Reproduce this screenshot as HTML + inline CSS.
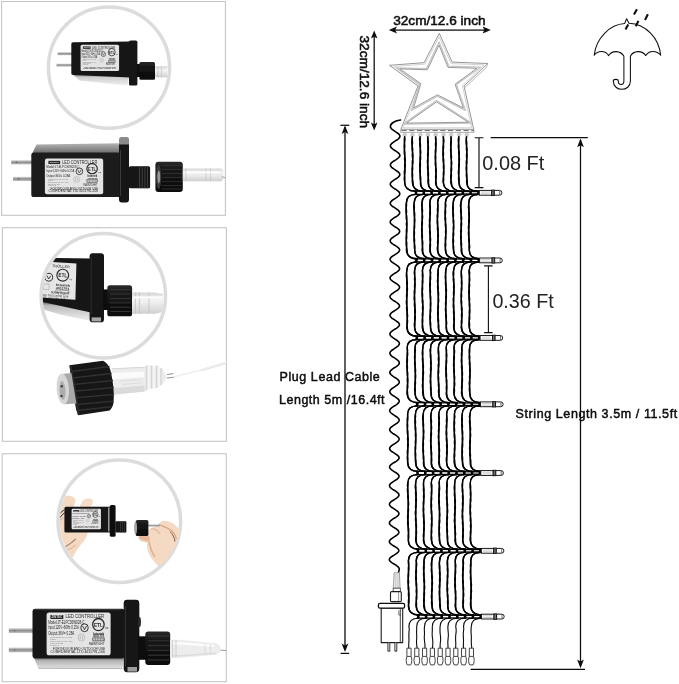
<!DOCTYPE html>
<html><head><meta charset="utf-8"><title>Star string light dimensions</title>
<style>
html,body{margin:0;padding:0;background:#fff;}
body{width:679px;height:684px;overflow:hidden;font-family:"Liberation Sans",sans-serif;}
svg{display:block;position:absolute;left:0;top:0;}
</style></head><body>
<svg width="679" height="684" viewBox="0 0 679 684">
<rect width="679" height="684" fill="#fff"/>
<defs>
  <g id="lbl" font-family="'Liberation Sans', sans-serif" fill="#262626">
    <rect x="0" y="0" width="63.5" height="40.3" rx="2.4" fill="#e4e4e4"/>
    <rect x="3.8" y="2.5" width="12.8" height="3.7" fill="#2a2a2a"/>
    <text x="5" y="5.4" font-size="2.8" fill="#ddd" font-weight="bold" textLength="10.4" lengthAdjust="spacingAndGlyphs">JINTEC</text>
    <text x="18.8" y="5.7" font-size="5.3" textLength="38.2" lengthAdjust="spacingAndGlyphs">LED CONTROLLER</text>
    <text x="1.6" y="10.6" font-size="4.8" textLength="36" lengthAdjust="spacingAndGlyphs">Model:JT-ELPC36W028-C</text>
    <text x="1.6" y="15.6" font-size="4.8" textLength="30.4" lengthAdjust="spacingAndGlyphs">Input:120V~60Hz 0.25A</text>
    <text x="1.6" y="20.8" font-size="4.8" textLength="26" lengthAdjust="spacingAndGlyphs">Output:36V= 0.28A</text>
    <g fill="#8a8a8a" font-size="2.2">
      <text x="3.3" y="23.9" textLength="22.6" lengthAdjust="spacingAndGlyphs">CONFORMS TO UL STD.</text>
      <text x="3.3" y="25.7" textLength="6" lengthAdjust="spacingAndGlyphs">1310</text>
      <text x="3.3" y="27.6" textLength="22.6" lengthAdjust="spacingAndGlyphs">CERTIFIED TO CSA STD</text>
      <text x="3.3" y="29.4" textLength="13" lengthAdjust="spacingAndGlyphs">C22.2 NO.223</text>
      <text x="3.3" y="31.2" textLength="9" lengthAdjust="spacingAndGlyphs">Class 2</text>
    </g>
    <text x="6.1" y="35.1" font-size="3.5" textLength="52" lengthAdjust="spacingAndGlyphs">FOR INDOOR AND OUTDOOR USE</text>
    <text x="3.8" y="38" font-size="3.3" textLength="54" lengthAdjust="spacingAndGlyphs">CONFIDENTIAL LTD 4011791-106</text>
    <g fill="none" stroke="#262626">
      <circle cx="37.6" cy="14.4" r="3.7" stroke-width="0.9"/>
      <path d="M35.6 12.6l2 3.6l2 -3.6" stroke-width="0.8"/>
      <circle cx="51.4" cy="11.4" r="5.7" stroke-width="1.25"/>
      <circle cx="34.6" cy="23.6" r="3.3" stroke="#9a9a9a" stroke-width="0.5"/>
      <path d="M33.4 21.8v3.6M35.6 21.8v3.6" stroke="#9a9a9a" stroke-width="0.5"/>
      <rect x="45.8" y="23.9" width="11.6" height="2.9" stroke-width="0.5"/>
      <path d="M47 24v2.8M48.6 24v2.8M50.2 24v2.8M51.8 24v2.8M53.4 24v2.8M55 24v2.8M56.4 24v2.8" stroke-width="0.4"/>
    </g>
    <text x="47" y="13.5" font-size="5.8" font-weight="bold" textLength="8.8" lengthAdjust="spacingAndGlyphs">ETL</text>
    <text x="58" y="15.8" font-size="2.4" textLength="3.4" lengthAdjust="spacingAndGlyphs">us</text>
    <text x="46.4" y="21.1" font-size="3.3" font-weight="bold" textLength="10.8" lengthAdjust="spacingAndGlyphs">Intertek</text>
    <text x="46.4" y="23.4" font-size="2.7" font-weight="bold" textLength="10.8" lengthAdjust="spacingAndGlyphs">4011791</text>
    <text x="42" y="30.6" font-size="4" textLength="15.4" lengthAdjust="spacingAndGlyphs">RAINTIGHT</text>
  </g>
  <filter id="soft0" x="0" y="0" width="679" height="684" filterUnits="userSpaceOnUse"><feGaussianBlur stdDeviation="0.3"/></filter>
  <filter id="soft" x="-5%" y="-5%" width="110%" height="110%"><feGaussianBlur stdDeviation="0.45"/></filter>
  <filter id="soft2" x="-5%" y="-5%" width="110%" height="110%"><feGaussianBlur stdDeviation="0.8"/></filter>
  <linearGradient id="topface" x1="0" y1="0" x2="0" y2="1"><stop offset="0" stop-color="#b6b6b6"/><stop offset="1" stop-color="#666"/></linearGradient>
  <linearGradient id="bevel" x1="0" y1="0" x2="0" y2="1"><stop offset="0" stop-color="#555"/><stop offset="0.35" stop-color="#b4b4b4"/><stop offset="1" stop-color="#e2e2e2"/></linearGradient>
  <linearGradient id="bevel2" x1="0" y1="0" x2="0" y2="1"><stop offset="0" stop-color="#444"/><stop offset="0.25" stop-color="#bbb"/><stop offset="1" stop-color="#efefef"/></linearGradient>
  <linearGradient id="bevel3" x1="0" y1="0" x2="0" y2="1"><stop offset="0" stop-color="#777"/><stop offset="0.3" stop-color="#cfcfcf"/><stop offset="1" stop-color="#f0f0f0"/></linearGradient>
  <linearGradient id="prong" x1="0" y1="0" x2="0" y2="1"><stop offset="0" stop-color="#d8d8d8"/><stop offset="0.5" stop-color="#8c8c8c"/><stop offset="1" stop-color="#c4c4c4"/></linearGradient>
  <linearGradient id="clear" x1="0" y1="0" x2="0" y2="1"><stop offset="0" stop-color="#d6d6d6"/><stop offset="0.35" stop-color="#f4f4f4"/><stop offset="0.7" stop-color="#e2e2e2"/><stop offset="1" stop-color="#cfcfcf"/></linearGradient>
  <linearGradient id="nutg" x1="0" y1="0" x2="0" y2="1"><stop offset="0" stop-color="#2a2a2a"/><stop offset="0.3" stop-color="#151515"/><stop offset="1" stop-color="#0c0c0c"/></linearGradient>
  <clipPath id="c1"><circle cx="109" cy="67.6" r="59"/></clipPath>
  <clipPath id="c2"><circle cx="103.3" cy="295.7" r="60.6"/></clipPath>
  <clipPath id="c3"><circle cx="120" cy="521" r="60.2"/></clipPath>
</defs>
<!-- panel borders -->
<g fill="#fff" stroke="#c6c6c6" stroke-width="1.1">
  <rect x="1.6" y="1.5" width="223.8" height="213.8"/>
  <rect x="2.4" y="227.7" width="224" height="213.6"/>
  <rect x="2.2" y="453.7" width="224.1" height="228"/>
</g>

<!-- ===== PANEL 1 ===== -->
<circle cx="109" cy="67.6" r="60.6" fill="#fff" stroke="#dcdcdc" stroke-width="3.5"/>
<g filter="url(#soft)" clip-path="url(#c1)">
  <!-- small adapter -->
  <rect x="56.5" y="63.6" width="15.5" height="3" fill="url(#prong)"/>
  <rect x="57.7" y="52.2" width="14.3" height="3" fill="url(#prong)"/>
  <path d="M72.4 74L129 76.6L127.4 85.4L79.4 80.6Z" fill="url(#bevel3)"/>
  <path d="M73 42.3L130 41.6L130 77.6L73 75Q71.3 75 71.3 73.2L71.3 44Q71.3 42.3 73 42.3Z" fill="#171717"/>
  <rect x="129" y="40.6" width="8.4" height="45" rx="1.6" fill="#141414"/>
  <use href="#lbl" transform="translate(80.6 44.8) scale(0.606 0.65)"/>
  <rect x="137" y="64" width="3" height="13" fill="#111"/>
  <rect x="139.4" y="61.9" width="15.6" height="17.8" rx="1.5" fill="url(#nutg)"/>
  <path d="M155 66.3h12.5v11h-12.5z" fill="url(#clear)"/>
  <path d="M158 66.3v11M161.4 66.3v11" stroke="#bbb" stroke-width="0.6"/>
</g>
<!-- big adapter 1 -->
<g filter="url(#soft)">
  <rect x="11.2" y="160.2" width="21" height="4.2" fill="url(#prong)"/>
  <rect x="13" y="176.8" width="19.5" height="4.2" fill="url(#prong)"/>
  <circle cx="16.4" cy="162.3" r="0.9" fill="#666"/><circle cx="18.6" cy="178.9" r="0.9" fill="#666"/>
  <path d="M36.5 144.4L119 143.2L119 154L32 154Z" fill="url(#topface)"/>
  <rect x="31.3" y="152.6" width="89" height="44.4" rx="2.6" fill="#1c1c1c"/>
  <path d="M119 139.5q0 -2.4 2.4 -2.4h5q2.6 0 2.6 2.4v7h-10z" fill="#8a8a8a"/>
  <path d="M119 144.5h10v55.6q0 2.4 -2.4 2.4h-5.2q-2.4 0 -2.4 -2.4z" fill="#121212"/>
  <path d="M120.5 150v46" stroke="#3a3a3a" stroke-width="1"/>
  <use href="#lbl" transform="translate(44.9 158.6) scale(0.918 0.885)"/>
  <!-- stub -->
  <rect x="128.9" y="166.2" width="21.2" height="22.1" rx="1.5" fill="#161616"/>
  <path d="M139.5 166v22.4M142.2 166v22.4M144.9 166v22.4M147.6 166v22.4" stroke="#444" stroke-width="0.9"/>
  <!-- nut -->
  <rect x="155.4" y="161.8" width="27.4" height="30.2" rx="3" fill="url(#nutg)"/>
  <ellipse cx="158.6" cy="177" rx="2.6" ry="12" fill="#3a3a3a"/>
  <ellipse cx="158.8" cy="177" rx="1.4" ry="6.5" fill="#9a9a9a"/>
  <path d="M162 165.5h20M162 169.5h20M162 173.5h20M162 177.5h20M162 181.5h20M162 185.5h20M162 189h20" stroke="#333" stroke-width="0.8"/>
  <!-- clear connector -->
  <path d="M182.8 168.4h38.5l2 2.4v8l-2 2.4h-38.5z" fill="url(#clear)"/>
  <path d="M186 168.4v13M206 168.4v13M210.5 168.4v13" stroke="#c4c4c4" stroke-width="0.7"/>
  <path d="M186 172.2h34" stroke="#fff" stroke-width="1.4"/>
  <path d="M222 176.5l3.4 1.5" stroke="#999" stroke-width="0.9"/>
</g>
<!-- ===== PANEL 2 ===== -->
<circle cx="103.3" cy="295.7" r="62.2" fill="#fff" stroke="#dcdcdc" stroke-width="3.5"/>
<g filter="url(#soft)" clip-path="url(#c2)">
  <path d="M38 300.5L90 311L90.5 321L60 314.5L38 308Z" fill="url(#bevel2)"/>
  <path d="M36 257.6L91 258.6L91 312.4L36 300.6Z" fill="#171717"/>
  <path d="M36 261L76.4 263.4L75.4 299.8L36 297.2Z" fill="#e6e6e6"/>
  <path d="M89.6 256.3q0 -3 3 -3h8.4q3 0 3 3v62.6q0 3.4 -3 3.4h-8.4q-3 0 -3 -3.4z" fill="#131313"/>
  <path d="M91.6 317.4h9.4v4h-9.4z" fill="#a8a8a8"/>
  <path d="M91.2 258v56" stroke="#303030" stroke-width="1"/>
  <rect x="103.6" y="289.4" width="5" height="20.6" fill="#0e0e0e"/>
  <rect x="107.3" y="285.3" width="24.8" height="31" rx="2.6" fill="url(#nutg)"/>
  <path d="M110 289.6h20.6M110 294h20.6M110 298.4h20.6M110 302.8h20.6M110 307.2h20.6M110 311.6h20.6" stroke="#3a3a3a" stroke-width="0.9"/>
  <path d="M132 292.4h23l8 1.6v18l-8 1.8h-23z" fill="url(#clear)"/>
  <path d="M135.4 292.4v21.6M139.4 292.4v21.6M149 292.6v21" stroke="#c2c2c2" stroke-width="0.8"/>
  <path d="M133.4 297.4h29" stroke="#fff" stroke-width="2"/>
  <g transform="rotate(4 60 280)">
    <g fill="#222" font-family="'Liberation Sans', sans-serif">
      <text x="51" y="267.6" font-size="3.6" textLength="18" lengthAdjust="spacingAndGlyphs">TROLLER</text>
      <text x="56.4" y="286.2" font-size="3.5" font-weight="bold" textLength="14" lengthAdjust="spacingAndGlyphs">Intertek</text>
      <text x="56.4" y="289.2" font-size="3" font-weight="bold" textLength="13.4" lengthAdjust="spacingAndGlyphs">4011791</text>
      <text x="52" y="294.2" font-size="3.8" textLength="18.6" lengthAdjust="spacingAndGlyphs">RAINTIGHT</text>
      <text x="42" y="297.2" font-size="2.9" textLength="28" lengthAdjust="spacingAndGlyphs">AND OUTDOOR USE</text>
      <text x="42" y="299.8" font-size="2.7" textLength="25" lengthAdjust="spacingAndGlyphs">LTD 4011791-106</text>
    </g>
    <g fill="none" stroke="#222" stroke-width="1.1">
      <circle cx="62.4" cy="275" r="5.9"/><circle cx="48.6" cy="278" r="3.9" stroke-width="0.9"/>
      <path d="M46.6 276.4l2 3.4l2 -3.4" stroke-width="0.8"/>
      <path d="M44 285h5.6v5.4h-5.6z" stroke-width="0.5" stroke="#999"/>
      <path d="M56.6 290h13v2.6h-13z" stroke-width="0.5" stroke="#555"/>
    </g>
    <text x="58.1" y="277" font-size="5.5" font-weight="bold" font-family="'Liberation Sans', sans-serif" fill="#222" textLength="8.8" lengthAdjust="spacingAndGlyphs">ETL</text>
    <text x="69.4" y="279.4" font-size="2.4" font-family="'Liberation Sans', sans-serif" fill="#222">us</text>
  </g>
</g>
<!-- big connector -->
<g filter="url(#soft)">
  <path d="M201.5 370.2L226.4 362.6" stroke="#e2e2e2" stroke-width="2.4"/>
  <path d="M201.5 369.8L226.4 362.2" stroke="#f8f8f8" stroke-width="0.9"/>
  <path d="M172 377.2L202 370" stroke="#efefef" stroke-width="1.4"/>
  <path d="M167 374.6l6.5 -1M167 378l6.5 -0.6" stroke="#909090" stroke-width="1"/>
  <path d="M111.5 368.6L145 367L147 365.2L152 365.8L157.5 365.6L162.6 369L167.2 377L163 384L157 388.2L150 388.6L145 391.6L111.5 395Z" fill="#ececec"/>
  <path d="M112 373L144 371.4L144 377L112 379.4Z" fill="#fbfbfb"/>
  <path d="M112 388.6L144.5 385.4L144.5 391.4L112 394.8Z" fill="#dadada"/>
  <path d="M112 368.8L145 367.2" stroke="#d6d6d6" stroke-width="1"/>
  <path d="M146.5 365.4v25M151.5 365.8v22.6M156.5 365.8v22M161 368v17" stroke="#d4d4d4" stroke-width="1.2"/>
  <path d="M149 365.4v24M154 365.8v22M159 366.6v19.6" stroke="#fcfcfc" stroke-width="1.1"/>
  <path d="M120 381l22 -1.4M122 384.4l20 -1.6" stroke="#d4d4d4" stroke-width="0.6"/>
  <path d="M69.4 365.2L103 360.8Q108 363 110.4 370Q114.6 387 113.6 402.6Q112.6 408 109.6 410.6L78.3 415.2Q75.6 410 75 403Q72 383 69.4 365.2Z" fill="#151515"/>
  <path d="M71.5 371.5L109.5 366.6M72.4 378L111.6 373.4M73.2 384.6L113 380.4M74 391.2L113.8 387.4M74.8 397.8L113.8 394.4M75.6 404.4L113.2 401.2M77 410.4L111 406.8" stroke="#303030" stroke-width="1.5" fill="none"/>
  <path d="M70.6 366L78.8 414.6" stroke="#2c2c2c" stroke-width="2.2"/>
  <path d="M62 373.9L71.4 373L76.4 403.6L64.4 404.2Z" fill="#a9a9a9"/>
  <ellipse cx="62.8" cy="389" rx="6.2" ry="15.2" fill="#d6d6d6" transform="rotate(-4 62.8 389)"/>
  <ellipse cx="62.4" cy="390.4" rx="3" ry="9.4" fill="#adadad" transform="rotate(-4 62.8 389)"/>
  <circle cx="61.8" cy="386.2" r="1.2" fill="#3c3c3c"/><circle cx="61.4" cy="396" r="1.2" fill="#3c3c3c"/>
</g>

<!-- ===== PANEL 3 ===== -->
<circle cx="119.3" cy="521.2" r="61.3" fill="#fff" stroke="#dcdcdc" stroke-width="3.5"/>
<g filter="url(#soft)" clip-path="url(#c3)">
  <!-- left hand (behind) -->
  <path d="M57 503C59 499 62.5 496.4 66 496C70 495.4 74 496.4 75.2 499.6C75.6 502.5 74.4 505 73.4 507.5L57 512Z" fill="#f3d8c2"/>
  <path d="M79.6 507C80.6 503.4 82.6 500.4 85.4 499C88.4 497.6 91.6 498.2 92.8 500.8C93.2 503 91.6 505.4 90 507.5Z" fill="#f5dcc8"/>
  <path d="M56 508L66 506L66 534L56 536Z" fill="#f3d8c2"/>
  <path d="M56 528L87.4 530.4C88.4 535 85.6 539.4 82.6 542.6C79 547 74.8 553 71 560.4L64 556L56 548Z" fill="#f4d9c3"/>
  <path d="M65.4 546.8C69 544.6 72.6 542 75.8 538.8" stroke="#a87a5c" stroke-width="1.1" fill="none"/>
  <path d="M63 551.5C67 550.6 72 548 76 545" stroke="#dcae8e" stroke-width="1" fill="none"/>
  <path d="M58.5 514.5l5.5 -4.6M58.5 519l6 -6.4" stroke="#2c2c2c" stroke-width="1"/>
  <path d="M58 521l6 -3" stroke="#caa" stroke-width="0.9"/>
  <!-- right hand -->
  <path d="M137.8 537.1L141 534.6L148.3 536L148.3 530.5C150 528.2 153 527 156 526.4L159.5 523.3C160.6 521.6 162 520.8 163.4 520.7C166.6 520.6 170 521.6 172.6 523.3C175.6 525.2 178 528 180.4 531L181 547L172 560L163.4 567L159.5 566.7C156 564 153.6 561.2 151.6 558.2C149.6 555.6 148.4 553 147.6 550.3C147 548 147 545.6 147 543L140 541Z" fill="#f4d9c3"/>
  <path d="M138.4 537.4C141 540 145.6 541.6 149.4 541.2C150.4 538.6 150 536.4 148.3 536L141 534.8Z" fill="#e6b79a"/>
  <path d="M149 541.5C150 547 151.5 552 155 557" stroke="#e2b294" stroke-width="1.6" fill="none"/>
  <path d="M159 524.5C163 526.4 168 527.4 172 531C174 533 175.6 536 176.4 539" stroke="#d9a787" stroke-width="1.3" fill="none"/>
  <path d="M170 531.5C172.6 534 174.4 537.6 175 541.6" stroke="#8a5e44" stroke-width="1" fill="none"/>
  <path d="M150.6 529C154 528.6 158 530.6 160 534" stroke="#e4b89c" stroke-width="1.2" fill="none"/>
  <!-- adapter -->
  <rect x="64.4" y="506.8" width="48" height="25.8" rx="1.6" fill="#161616"/>
  <path d="M109.8 506.6q0 -1.6 1.6 -1.6h2.6q1.6 0 1.6 1.6v28.6q0 1.6 -1.6 1.6h-2.6q-1.6 0 -1.6 -1.6z" fill="#111"/>
  <use href="#lbl" transform="translate(71.6 508.8) scale(0.462 0.508)"/>
  <path d="M108.8 507.5v24" stroke="#bdbdbd" stroke-width="1.2"/>
  <rect x="115.4" y="521.2" width="11" height="11.4" rx="0.8" fill="#141414"/>
  <path d="M120.5 521.2v11.4M122.6 521.2v11.4M124.7 521.2v11.4" stroke="#3c3c3c" stroke-width="0.7"/>
  <!-- nut -->
  <path d="M148.3 525.6h11.4" stroke="#9c9c9c" stroke-width="1.8"/>
  <rect x="135.8" y="520" width="12.6" height="16" rx="1.6" fill="url(#nutg)"/>
  <ellipse cx="135.6" cy="528" rx="1.5" ry="6.4" fill="#a4a4a4"/>
</g>
<!-- big adapter 3 -->
<g filter="url(#soft)">
  <rect x="8.8" y="628.2" width="24.4" height="4.8" fill="url(#prong)"/>
  <rect x="8.8" y="647.5" width="24.4" height="4.8" fill="url(#prong)"/>
  <circle cx="14.6" cy="630.6" r="0.9" fill="#777"/><circle cx="14.6" cy="649.9" r="0.9" fill="#777"/>
  <path d="M33.4 656.5L124 656.5L122.4 668.6L38.4 668.3Z" fill="url(#bevel)"/>
  <path d="M38.4 668.3L122.4 668.6" stroke="#9a9a9a" stroke-width="0.7"/>
  <rect x="32.5" y="608.7" width="92" height="49.8" rx="3" fill="#191919"/>
  <path d="M35 609.6h86" stroke="#3a3a3a" stroke-width="1"/>
  <path d="M123.7 603.2q0 -3.4 3.4 -3.4h8.8q3.4 0 3.4 3.4v65.4q0 3.6 -3.4 3.6h-8.8q-3.4 0 -3.4 -3.6z" fill="#121212"/>
  <path d="M127.5 667h9.5v4.6h-9.5z" fill="#9c9c9c"/>
  <path d="M125.6 606v60" stroke="#343434" stroke-width="1.1"/>
  <ellipse cx="139.4" cy="622" rx="1.6" ry="5" fill="#2c2c2c"/>
  <use href="#lbl" transform="translate(46.6 612.4) scale(1.008 1.066)"/>
  <rect x="138.6" y="636.3" width="8" height="23.5" fill="#0e0e0e"/>
  <rect x="145.3" y="631.5" width="24.9" height="33.6" rx="3" fill="url(#nutg)"/>
  <path d="M148 636h21.5M148 640.8h21.5M148 645.6h21.5M148 650.4h21.5M148 655.2h21.5M148 660h21.5" stroke="#353535" stroke-width="1"/>
  <path d="M170.1 639.8h10l36 3.4l4.4 3v5.6l-4.4 3l-36 3.2h-10z" fill="#ededed"/>
  <path d="M172 643.4h8l34 2.4" stroke="#fdfdfd" stroke-width="2.2" fill="none"/>
  <path d="M172 655.8h8l36 -2.6" stroke="#dcdcdc" stroke-width="1.4" fill="none"/>
  <path d="M172.6 640v17.8M176 640v17.8" stroke="#c8c8c8" stroke-width="0.8"/>
  <path d="M205 644v11M210.5 644.4v10" stroke="#d8d8d8" stroke-width="0.8"/>
  <path d="M220.5 650l5.6 0.6" stroke="#9a9a9a" stroke-width="1"/>
</g>
<g filter="url(#soft0)"><!-- dimension lines -->
<g stroke="#0a0a0a" stroke-width="1.25" fill="none">
  <path d="M392 30H488"/>
  <path d="M374.2 34V127"/>
  <path d="M345 127V650"/>
  <path d="M340.4 125.3H349.3"/>
  <path d="M340.6 653.4H349.2"/>
  <path d="M580.5 140V666"/>
  <path d="M490.7 137.7H587.8"/>
  <path d="M470.6 669.4H585"/>
</g>
<g stroke="#0a0a0a" stroke-width="1.1" fill="none">
  <path d="M479 137.7V187.6M474.7 137.7H483.4M474.7 187.6H483.4"/>
  <path d="M488.4 265.9V332.6M484.1 265.9H492.6M484.1 332.6H492.6"/>
</g>
<!-- arrowheads (stealth) -->
<g fill="#111">
  <path d="M388.8 30l8.2 -3.4l-1.8 3.4l1.8 3.4z"/>
  <path d="M490.8 30l-8.2 -3.4l1.8 3.4l-1.8 3.4z"/>
  <path d="M374.2 30.6l-3.3 8l3.3 -1.8l3.3 1.8z"/>
  <path d="M374.2 130.4l-3.3 -8l3.3 1.8l3.3 -1.8z"/>
  <path d="M345 125.4l-3.4 8.6l3.4 -2l3.4 2z"/>
  <path d="M345 652l-3.4 -8.6l3.4 2l3.4 -2z"/>
  <path d="M580.5 138.6l-3.4 8.6l3.4 -2l3.4 2z"/>
  <path d="M580.5 668.2l-3.4 -8.6l3.4 2l3.4 -2z"/>
</g>
<!-- texts -->
<g font-family="'Liberation Sans', sans-serif" fill="#111">
  <text x="393.2" y="25.1" font-size="13.3" stroke="#111" stroke-width="0.55" textLength="92.4" lengthAdjust="spacingAndGlyphs">32cm/12.6 inch</text>
  <text transform="translate(359.5 35.5) rotate(90)" font-size="13.3" stroke="#111" stroke-width="0.55" textLength="92.6" lengthAdjust="spacingAndGlyphs">32cm/12.6 inch</text>
  <text x="482.3" y="169.5" font-size="20" fill="#222" textLength="62" lengthAdjust="spacingAndGlyphs">0.08 Ft</text>
  <text x="492.4" y="307.9" font-size="20" fill="#222" textLength="61.4" lengthAdjust="spacingAndGlyphs">0.36 Ft</text>
  <text x="279.6" y="381" font-size="12.5" stroke="#000" stroke-width="0.42" textLength="100.2" lengthAdjust="spacing">Plug Lead Cable</text>
  <text x="279" y="404" font-size="12.5" stroke="#000" stroke-width="0.42" textLength="105.6" lengthAdjust="spacing">Length 5m /16.4ft</text>
  <text x="515.6" y="418.1" font-size="12.5" stroke="#000" stroke-width="0.42" textLength="161.6" lengthAdjust="spacing">String Length 3.5m / 11.5ft</text>
</g>
<!-- star -->
<g fill="none" stroke-linejoin="round">
<path d="M439.3 33.4L452.1 62.1L487.8 63.5L464.0 86.0L473.7 129.3L400.9 129.3L418.0 86.0L389.5 65.3L424.0 62.7Z" fill="#fff" stroke="#8a8a8a" stroke-width="0.9"/>
<path d="M439.2 36.8L451.1 63.6L484.2 64.9L462.3 85.5L471.8 127.8L403.1 127.8L419.8 85.5L393.7 66.5L424.9 64.1Z" stroke="#cdcdcd" stroke-width="0.9"/>
<path d="M439.1 42.0L448.8 66.2L480.3 67.2L456.5 84.6L465.5 110.4L437.4 96.2L411.6 110.5L419.4 84.1L396.4 67.8L426.6 68.6Z" stroke="#c4c4c4" stroke-width="1.3"/>
<path d="M439.0 45.0L448.0 67.4L476.9 68.3L455.1 84.2L463.4 108.0L437.4 94.8L413.6 108.0L420.8 83.6L399.8 68.9L427.4 69.8Z" stroke="#8e8e8e" stroke-width="0.9"/>
<path d="M436.6 100.5L471.9 123.2L403.1 124.2Z" stroke="#c4c4c4" stroke-width="1.3"/>
<path d="M436.6 101.9L468.4 122.2L406.5 123.1Z" stroke="#8e8e8e" stroke-width="0.9"/>
<path d="M487.8 63.5L486.3 67.6L464.8 87.6" stroke="#a8a8a8" stroke-width="0.8"/>
<path d="M400.9 129.3L400.6 132.4H474.2L473.7 129.3" stroke="#9a9a9a" stroke-width="0.8"/>
</g>
<!-- connectors under star -->
<path d="M401.5 130.6H474" stroke="#6a6a6a" stroke-width="1" stroke-dasharray="5.2 2.55" fill="none"/>
<g fill="#cfcfcf" stroke="#b0b0b0" stroke-width="0.5">
  <circle cx="404.8" cy="134.9" r="1.8"/><circle cx="412.5" cy="134.9" r="1.8"/><circle cx="420.3" cy="134.9" r="1.8"/>
  <circle cx="428" cy="134.9" r="1.8"/><circle cx="435.7" cy="134.9" r="1.8"/><circle cx="443.5" cy="134.9" r="1.8"/>
  <circle cx="451.2" cy="134.9" r="1.8"/><circle cx="459" cy="134.9" r="1.8"/><circle cx="466.7" cy="134.9" r="1.8"/>
</g>
<!-- umbrella -->
<g fill="none" stroke="#111" stroke-width="1.05" stroke-linejoin="round" stroke-linecap="round">
  <path d="M594.2 55.3C596 38 610 24.5 624.6 23.6L626.6 18.7L629 23.2C646 24 659 38 660.7 55.3C657 50.5 649 50 645.8 55.6C642 50 633.5 50.4 630.4 56.2V81.1C630.4 92 613.3 92 613.3 81.1C613.3 78.8 618.3 78.8 618.3 81.1C618.3 85.6 623.9 85.6 623.9 81.1V56.2C620.5 50.4 612.2 50 608.5 55.6C605.5 50 597.5 50.5 594.2 55.3Z"/>
</g>
<g stroke="#111" stroke-width="2.1" fill="none">
  <path d="M636.9 9.2L634 14.5M647.9 14.3L645 20M638.4 20.9L635.8 26.3M628.2 24.6L625.5 29.5"/>
</g>
<g fill="none" stroke="#050505" stroke-width="1.38" stroke-linecap="round" stroke-linejoin="round"><path d="M404.6 137.0L404.3 139.2L404.3 141.4L404.6 143.6L404.8 145.8L404.7 148.0L404.3 150.2L404.2 152.4L404.5 154.6L404.9 156.8L405.3 159.0L405.2 161.2L404.8 163.4L404.6 165.6L404.7 167.8L405.0 170.0L405.1 172.2L404.8 174.4L404.4 176.6L404.2 178.8L404.5 181.0L404.7 182.3C404.8 188.4 408.6 191.1 415.3 191.2"/><path d="M404.6 137.0L405.0 139.2L404.8 141.4L404.3 143.6L404.1 145.8L404.2 148.0L404.6 150.2L404.9 152.4L404.9 154.6L404.7 156.8L404.5 159.0L404.8 161.2L405.1 163.4L405.3 165.6L405.1 167.8L404.6 170.0L404.3 172.2L404.4 174.4L404.8 176.6L404.9 178.8L404.8 181.0L404.6 182.3C404.8 188.4 408.6 191.1 415.3 191.2"/><path d="M412.3 137.0L412.1 139.2L412.4 141.4L412.5 143.6L412.2 145.8L412.0 148.0L412.1 150.2L412.6 152.4L413.0 154.6L413.0 156.8L412.7 159.0L412.3 161.2L412.3 163.4L412.5 165.6L412.7 167.8L412.6 170.0L412.2 172.2L412.0 174.4L412.1 176.6L412.5 178.8L412.9 181.0L413.0 182.3C412.6 188.4 416.4 191.1 423.1 191.2"/><path d="M412.3 137.0L412.2 139.2L411.8 141.4L411.8 143.6L412.2 145.8L412.6 148.0L412.7 150.2L412.5 152.4L412.3 154.6L412.4 156.8L412.7 159.0L413.0 161.2L412.9 163.4L412.4 165.6L412.1 167.8L412.0 170.0L412.4 172.2L412.6 174.4L412.6 176.6L412.4 178.8L412.2 181.0L412.3 182.3C412.6 188.4 416.4 191.1 423.1 191.2"/><path d="M420.1 137.0L420.2 139.2L420.1 141.4L419.8 143.6L419.8 145.8L420.2 148.0L420.6 150.2L420.8 152.4L420.5 154.6L420.1 156.8L419.9 159.0L420.1 161.2L420.4 163.4L420.4 165.6L420.1 167.8L419.7 170.0L419.8 172.2L420.2 174.4L420.6 176.6L420.8 178.8L420.6 181.0L420.4 182.3C420.3 188.4 424.1 191.1 430.8 191.2"/><path d="M420.1 137.0L419.5 139.2L419.8 141.4L420.3 143.6L420.5 145.8L420.4 148.0L420.1 150.2L420.1 152.4L420.3 154.6L420.6 156.8L420.6 159.0L420.2 161.2L419.8 163.4L419.7 165.6L419.9 167.8L420.3 170.0L420.4 172.2L420.2 174.4L420.0 176.6L420.1 178.8L420.5 181.0L420.8 182.3C420.3 188.4 424.1 191.1 430.8 191.2"/><path d="M427.8 137.0L427.7 139.2L427.6 141.4L427.8 143.6L428.3 145.8L428.5 148.0L428.3 150.2L427.9 152.4L427.6 154.6L427.7 156.8L428.0 159.0L428.1 161.2L427.9 163.4L427.6 165.6L427.5 167.8L427.8 170.0L428.3 172.2L428.5 174.4L428.4 176.6L428.1 178.8L427.9 181.0L428.0 182.3C428.1 188.4 431.9 191.1 438.6 191.2"/><path d="M427.8 137.0L427.9 139.2L428.3 141.4L428.2 143.6L427.9 145.8L427.8 148.0L427.9 150.2L428.2 152.4L428.3 154.6L428.0 156.8L427.6 159.0L427.4 161.2L427.5 163.4L428.0 165.6L428.2 167.8L428.1 170.0L427.9 172.2L427.8 174.4L428.1 176.6L428.5 178.8L428.6 181.0L428.5 182.3C428.1 188.4 431.9 191.1 438.6 191.2"/><path d="M435.6 137.0L435.5 139.2L435.9 141.4L436.2 143.6L436.1 145.8L435.7 148.0L435.3 150.2L435.3 152.4L435.5 154.6L435.8 156.8L435.7 159.0L435.4 161.2L435.2 163.4L435.4 165.6L435.9 167.8L436.3 170.0L436.2 172.2L435.9 174.4L435.6 176.6L435.7 178.8L436.0 181.0L436.1 182.3C435.8 188.4 439.6 191.1 446.3 191.2"/><path d="M435.6 137.0L436.1 139.2L435.8 141.4L435.5 143.6L435.5 145.8L435.8 148.0L436.0 150.2L435.8 152.4L435.4 154.6L435.1 156.8L435.2 159.0L435.6 161.2L435.9 163.4L435.9 165.6L435.7 167.8L435.6 170.0L435.8 172.2L436.1 174.4L436.3 176.6L436.1 178.8L435.7 181.0L435.5 182.3C435.8 188.4 439.6 191.1 446.3 191.2"/><path d="M443.3 137.0L443.8 139.2L443.9 141.4L443.5 143.6L443.1 145.8L442.9 148.0L443.1 150.2L443.4 152.4L443.5 154.6L443.3 156.8L443.0 159.0L443.1 161.2L443.5 163.4L444.0 165.6L444.0 167.8L443.7 170.0L443.4 172.2L443.3 174.4L443.5 176.6L443.7 178.8L443.6 181.0L443.4 182.3C443.5 188.4 447.3 191.1 454.0 191.2"/><path d="M443.3 137.0L443.3 139.2L443.2 141.4L443.4 143.6L443.6 145.8L443.6 148.0L443.2 150.2L442.9 152.4L442.8 154.6L443.2 156.8L443.6 159.0L443.8 161.2L443.6 163.4L443.4 165.6L443.4 167.8L443.7 170.0L444.0 172.2L443.9 174.4L443.5 176.6L443.1 178.8L443.0 181.0L443.2 182.3C443.5 188.4 447.3 191.1 454.0 191.2"/><path d="M451.0 137.0L451.3 139.2L450.8 141.4L450.6 143.6L450.7 145.8L451.0 148.0L451.2 150.2L451.1 152.4L450.9 154.6L450.8 156.8L451.2 159.0L451.6 161.2L451.8 163.4L451.5 165.6L451.1 167.8L450.9 170.0L451.1 172.2L451.4 174.4L451.4 176.6L451.1 178.8L450.8 181.0L450.7 182.3C451.3 188.4 455.1 191.1 461.8 191.2"/><path d="M451.0 137.0L450.9 139.2L451.2 141.4L451.3 143.6L451.0 145.8L450.7 148.0L450.5 150.2L450.8 152.4L451.3 154.6L451.5 156.8L451.4 159.0L451.2 161.2L451.1 163.4L451.3 165.6L451.6 167.8L451.6 170.0L451.3 172.2L450.9 174.4L450.7 176.6L450.9 178.8L451.3 181.0L451.4 182.3C451.3 188.4 455.1 191.1 461.8 191.2"/><path d="M458.8 137.0L458.3 139.2L458.3 141.4L458.7 143.6L459.0 145.8L458.9 148.0L458.7 150.2L458.6 152.4L458.8 154.6L459.2 156.8L459.5 159.0L459.4 161.2L458.9 163.4L458.6 165.6L458.7 167.8L459.0 170.0L459.1 172.2L458.9 174.4L458.6 176.6L458.5 178.8L458.8 181.0L459.1 182.3C459.0 188.4 462.8 191.1 469.5 191.2"/><path d="M458.8 137.0L459.0 139.2L458.8 141.4L458.5 143.6L458.3 145.8L458.4 148.0L458.9 150.2L459.3 152.4L459.3 154.6L459.0 156.8L458.8 159.0L458.9 161.2L459.2 163.4L459.3 165.6L459.1 167.8L458.6 170.0L458.4 172.2L458.5 174.4L458.9 176.6L459.2 178.8L459.2 181.0L459.0 182.3C459.0 188.4 462.8 191.1 469.5 191.2"/><path d="M466.5 137.0L466.3 139.2L466.6 141.4L466.8 143.6L466.6 145.8L466.4 148.0L466.5 150.2L466.8 152.4L467.2 154.6L467.1 156.8L466.7 159.0L466.3 161.2L466.3 163.4L466.5 165.6L466.8 167.8L466.7 170.0L466.5 172.2L466.3 174.4L466.4 176.6L466.9 178.8L467.3 181.0L467.3 182.3C466.8 188.4 470.6 191.1 477.3 191.2"/><path d="M466.5 137.0L466.3 139.2L466.0 141.4L466.1 143.6L466.5 145.8L467.0 148.0L467.1 150.2L466.8 152.4L466.5 154.6L466.5 156.8L466.8 159.0L467.0 161.2L466.9 163.4L466.5 165.6L466.1 167.8L466.2 170.0L466.6 172.2L466.9 174.4L467.0 176.6L466.8 178.8L466.6 181.0L466.6 182.3C466.8 188.4 470.6 191.1 477.3 191.2"/><path d="M415.9 194.4C410.0 194.5 406.4 197.0 406.4 202.8L405.9 205.0L406.1 207.2L406.4 209.4L406.6 211.6L406.4 213.8L406.2 216.0L406.2 218.2L406.6 220.4L407.0 222.6L407.1 224.8L406.8 227.0L406.4 229.2L406.3 231.4L406.4 233.6L406.7 235.8L406.7 238.0L406.4 240.2L406.1 242.4L406.1 244.6L406.5 246.8L407.0 249.0L407.1 249.9C406.7 256.0 410.5 258.7 417.2 258.8"/><path d="M415.9 194.4C410.0 194.5 406.4 197.0 406.4 202.8L406.6 205.0L406.3 207.2L406.0 209.4L405.9 211.6L406.2 213.8L406.7 216.0L406.9 218.2L406.8 220.4L406.5 222.6L406.4 224.8L406.7 227.0L407.0 229.2L407.0 231.4L406.6 233.6L406.2 235.8L406.0 238.0L406.3 240.2L406.7 242.4L406.8 244.6L406.6 246.8L406.4 249.0L406.4 249.9C406.7 256.0 410.5 258.7 417.2 258.8"/><path d="M423.7 194.4C417.8 194.5 414.2 197.0 414.2 202.8L414.1 205.0L414.4 207.2L414.3 209.4L414.1 211.6L414.0 213.8L414.2 216.0L414.7 218.2L414.9 220.4L414.7 222.6L414.3 224.8L414.0 227.0L414.1 229.2L414.4 231.4L414.5 233.6L414.3 235.8L414.0 238.0L413.9 240.2L414.2 242.4L414.7 244.6L415.0 246.8L414.8 249.0L414.7 249.9C414.5 256.0 418.3 258.7 425.0 258.8"/><path d="M423.7 194.4C417.8 194.5 414.2 197.0 414.2 202.8L413.8 205.0L413.7 207.2L413.9 209.4L414.4 211.6L414.7 213.8L414.7 216.0L414.4 218.2L414.2 220.4L414.3 222.6L414.6 224.8L414.7 227.0L414.4 229.2L414.0 231.4L413.8 233.6L414.0 235.8L414.4 238.0L414.6 240.2L414.5 242.4L414.3 244.6L414.3 246.8L414.6 249.0L414.7 249.9C414.5 256.0 418.3 258.7 425.0 258.8"/><path d="M431.5 194.4C425.6 194.5 422.0 197.0 422.0 202.8L422.2 205.0L422.0 207.2L421.8 209.4L422.0 211.6L422.3 213.8L422.6 216.0L422.6 218.2L422.1 220.4L421.8 222.6L421.7 224.8L422.0 227.0L422.2 229.2L422.2 231.4L421.9 233.6L421.7 235.8L421.9 238.0L422.4 240.2L422.8 242.4L422.7 244.6L422.4 246.8L422.1 249.0L422.1 249.9C422.3 256.0 426.1 258.7 432.8 258.8"/><path d="M431.5 194.4C425.6 194.5 422.0 197.0 422.0 202.8L421.6 205.0L422.1 207.2L422.5 209.4L422.5 211.6L422.3 213.8L422.0 216.0L422.0 218.2L422.3 220.4L422.4 222.6L422.3 224.8L421.9 227.0L421.6 229.2L421.7 231.4L422.1 233.6L422.4 235.8L422.4 238.0L422.2 240.2L422.1 242.4L422.2 244.6L422.6 246.8L422.8 249.0L422.8 249.9C422.3 256.0 426.1 258.7 432.8 258.8"/><path d="M439.3 194.4C433.4 194.5 429.8 197.0 429.8 202.8L429.7 205.0L429.7 207.2L430.0 209.4L430.3 211.6L430.4 213.8L430.0 216.0L429.6 218.2L429.4 220.4L429.6 222.6L430.0 224.8L430.0 227.0L429.8 229.2L429.6 231.4L429.7 233.6L430.1 235.8L430.5 238.0L430.6 240.2L430.3 242.4L429.9 244.6L429.8 246.8L430.0 249.0L430.2 249.9C430.1 256.0 433.9 258.7 440.6 258.8"/><path d="M439.3 194.4C433.4 194.5 429.8 197.0 429.8 202.8L430.2 205.0L430.4 207.2L430.2 209.4L429.8 211.6L429.7 213.8L429.9 216.0L430.1 218.2L430.1 220.4L429.7 222.6L429.4 224.8L429.4 227.0L429.7 229.2L430.2 231.4L430.3 233.6L430.1 235.8L429.9 238.0L429.9 240.2L430.3 242.4L430.5 244.6L430.4 246.8L430.0 249.0L429.8 249.9C430.1 256.0 433.9 258.7 440.6 258.8"/><path d="M447.1 194.4C441.2 194.5 437.6 197.0 437.6 202.8L437.7 205.0L438.0 207.2L438.1 209.4L437.9 211.6L437.4 213.8L437.1 216.0L437.3 218.2L437.6 220.4L437.8 222.6L437.7 224.8L437.5 227.0L437.4 229.2L437.8 231.4L438.2 233.6L438.4 235.8L438.1 238.0L437.7 240.2L437.5 242.4L437.7 244.6L437.9 246.8L438.0 249.0L437.9 249.9C437.9 256.0 441.7 258.7 448.4 258.8"/><path d="M447.1 194.4C441.2 194.5 437.6 197.0 437.6 202.8L438.1 205.0L437.7 207.2L437.4 209.4L437.5 211.6L437.8 213.8L437.9 216.0L437.6 218.2L437.2 220.4L437.1 222.6L437.4 224.8L437.9 227.0L438.2 229.2L438.1 231.4L437.8 233.6L437.7 235.8L437.9 238.0L438.2 240.2L438.2 242.4L437.9 244.6L437.4 246.8L437.3 249.0L437.3 249.9C437.9 256.0 441.7 258.7 448.4 258.8"/><path d="M454.9 194.4C449.0 194.5 445.4 197.0 445.4 202.8L445.9 205.0L445.7 207.2L445.3 209.4L444.9 211.6L445.0 213.8L445.3 216.0L445.6 218.2L445.6 220.4L445.4 222.6L445.3 224.8L445.5 227.0L445.9 229.2L446.2 231.4L446.0 233.6L445.6 235.8L445.3 238.0L445.3 240.2L445.6 242.4L445.8 244.6L445.6 246.8L445.3 249.0L445.2 249.9C445.7 256.0 449.5 258.7 456.2 258.8"/><path d="M454.9 194.4C449.0 194.5 445.4 197.0 445.4 202.8L445.2 205.0L445.2 207.2L445.4 209.4L445.6 211.6L445.5 213.8L445.1 216.0L444.9 218.2L445.1 220.4L445.6 222.6L446.0 224.8L446.0 227.0L445.7 229.2L445.5 231.4L445.6 233.6L445.8 235.8L446.0 238.0L445.7 240.2L445.3 242.4L445.0 244.6L445.2 246.8L445.6 249.0L445.8 249.9C445.7 256.0 449.5 258.7 456.2 258.8"/><path d="M462.7 194.4C456.8 194.5 453.2 197.0 453.2 202.8L453.1 205.0L452.7 207.2L452.7 209.4L453.0 211.6L453.4 213.8L453.5 216.0L453.3 218.2L453.1 220.4L453.2 222.6L453.6 224.8L453.9 227.0L453.8 229.2L453.4 231.4L453.0 233.6L453.0 235.8L453.2 238.0L453.5 240.2L453.5 242.4L453.2 244.6L453.0 246.8L453.2 249.0L453.4 249.9C453.5 256.0 457.3 258.7 464.0 258.8"/><path d="M462.7 194.4C456.8 194.5 453.2 197.0 453.2 202.8L453.0 205.0L453.3 207.2L453.3 209.4L453.0 211.6L452.8 213.8L452.9 216.0L453.3 218.2L453.7 220.4L453.8 222.6L453.6 224.8L453.3 227.0L453.2 229.2L453.5 231.4L453.7 233.6L453.6 235.8L453.2 238.0L452.8 240.2L452.9 242.4L453.3 244.6L453.7 246.8L453.7 249.0L453.7 249.9C453.5 256.0 457.3 258.7 464.0 258.8"/><path d="M470.5 194.4C464.6 194.5 461.0 197.0 461.0 202.8L460.4 205.0L460.6 207.2L461.1 209.4L461.3 211.6L461.2 213.8L461.0 216.0L460.9 218.2L461.2 220.4L461.6 222.6L461.6 224.8L461.3 227.0L460.9 229.2L460.7 231.4L460.9 233.6L461.2 235.8L461.3 238.0L461.1 240.2L460.9 242.4L460.9 244.6L461.3 246.8L461.8 249.0L461.8 249.9C461.3 256.0 465.1 258.7 471.8 258.8"/><path d="M470.5 194.4C464.6 194.5 461.0 197.0 461.0 202.8L461.1 205.0L460.9 207.2L460.7 209.4L460.6 211.6L461.0 213.8L461.4 216.0L461.7 218.2L461.5 220.4L461.1 222.6L460.9 224.8L461.1 227.0L461.4 229.2L461.4 231.4L461.0 233.6L460.7 235.8L460.6 238.0L461.0 240.2L461.4 242.4L461.6 244.6L461.4 246.8L461.2 249.0L461.1 249.9C461.3 256.0 465.1 258.7 471.8 258.8"/><path d="M478.3 194.4C472.4 194.5 468.8 197.0 468.8 202.8L468.8 205.0L469.1 207.2L469.1 209.4L468.9 211.6L468.7 213.8L468.9 216.0L469.2 218.2L469.4 220.4L469.2 222.6L468.7 224.8L468.4 227.0L468.5 229.2L468.9 231.4L469.1 233.6L469.0 235.8L468.8 238.0L468.7 240.2L469.0 242.4L469.5 244.6L469.7 246.8L469.4 249.0L469.3 249.9C469.1 256.0 472.9 258.7 479.6 258.8"/><path d="M478.3 194.4C472.4 194.5 468.8 197.0 468.8 202.8L468.6 205.0L468.4 207.2L468.7 209.4L469.1 211.6L469.4 213.8L469.3 216.0L469.0 218.2L468.7 220.4L468.7 222.6L469.0 224.8L469.1 227.0L468.9 229.2L468.5 231.4L468.4 233.6L468.6 235.8L469.1 238.0L469.4 240.2L469.3 242.4L469.1 244.6L468.9 246.8L469.1 249.0L469.3 249.9C469.1 256.0 472.9 258.7 479.6 258.8"/><path d="M416.3 262.0C410.4 262.1 406.8 264.6 406.8 270.4L406.5 272.6L406.9 274.8L407.0 277.0L406.9 279.2L406.7 281.4L406.7 283.6L407.1 285.8L407.4 288.0L407.4 290.2L407.0 292.4L406.6 294.6L406.5 296.8L406.7 299.0L407.0 301.2L407.0 303.4L406.8 305.6L406.5 307.8L406.7 310.0L407.1 312.2L407.5 314.4L407.6 316.6L407.2 318.8L406.9 321.0L406.9 323.2L407.1 325.4L407.3 327.4C407.1 333.5 410.9 336.2 417.6 336.3"/><path d="M416.3 262.0C410.4 262.1 406.8 264.6 406.8 270.4L406.6 272.6L406.3 274.8L406.4 277.0L406.8 279.2L407.2 281.4L407.4 283.6L407.1 285.8L406.8 288.0L406.7 290.2L407.0 292.4L407.2 294.6L407.1 296.8L406.7 299.0L406.4 301.2L406.4 303.4L406.8 305.6L407.2 307.8L407.3 310.0L407.1 312.2L406.9 314.4L407.0 316.6L407.3 318.8L407.6 321.0L407.4 323.2L407.0 325.4L406.7 327.4C407.1 333.5 410.9 336.2 417.6 336.3"/><path d="M424.1 262.0C418.2 262.1 414.6 264.6 414.6 270.4L414.9 272.6L414.8 274.8L414.6 277.0L414.5 279.2L414.7 281.4L415.1 283.6L415.2 285.8L414.9 288.0L414.4 290.2L414.2 292.4L414.4 294.6L414.7 296.8L414.8 299.0L414.7 301.2L414.4 303.4L414.4 305.6L414.8 307.8L415.3 310.0L415.4 312.2L415.1 314.4L414.7 316.6L414.6 318.8L414.8 321.0L415.0 323.2L415.0 325.4L414.7 327.4C414.9 333.5 418.7 336.2 425.4 336.3"/><path d="M424.1 262.0C418.2 262.1 414.6 264.6 414.6 270.4L414.2 272.6L414.5 274.8L414.9 277.0L415.2 279.2L415.0 281.4L414.7 283.6L414.5 285.8L414.6 288.0L414.9 290.2L414.9 292.4L414.6 294.6L414.2 296.8L414.1 299.0L414.5 301.2L414.9 303.4L415.1 305.6L415.0 307.8L414.7 310.0L414.7 312.2L415.0 314.4L415.3 316.6L415.3 318.8L414.9 321.0L414.4 323.2L414.3 325.4L414.6 327.4C414.9 333.5 418.7 336.2 425.4 336.3"/><path d="M431.9 262.0C426.0 262.1 422.4 264.6 422.4 270.4L422.5 272.6L422.3 274.8L422.4 277.0L422.7 279.2L422.9 281.4L422.7 283.6L422.3 285.8L422.0 288.0L422.0 290.2L422.4 292.4L422.6 294.6L422.6 296.8L422.3 299.0L422.2 301.2L422.5 303.4L423.0 305.6L423.2 307.8L423.0 310.0L422.6 312.2L422.3 314.4L422.4 316.6L422.7 318.8L422.8 321.0L422.6 323.2L422.2 325.4L422.2 327.4C422.7 333.5 426.5 336.2 433.2 336.3"/><path d="M431.9 262.0C426.0 262.1 422.4 264.6 422.4 270.4L422.6 272.6L423.0 274.8L422.9 277.0L422.5 279.2L422.2 281.4L422.3 283.6L422.5 285.8L422.7 288.0L422.5 290.2L422.1 292.4L421.9 294.6L422.2 296.8L422.6 299.0L423.0 301.2L422.9 303.4L422.6 305.6L422.5 307.8L422.6 310.0L422.9 312.2L423.0 314.4L422.7 316.6L422.3 318.8L422.1 321.0L422.3 323.2L422.7 325.4L422.9 327.4C422.7 333.5 426.5 336.2 433.2 336.3"/><path d="M439.7 262.0C433.8 262.1 430.2 264.6 430.2 270.4L430.1 272.6L430.4 274.8L430.6 277.0L430.6 279.2L430.1 281.4L429.7 283.6L429.7 285.8L430.0 288.0L430.4 290.2L430.5 292.4L430.2 294.6L430.1 296.8L430.2 299.0L430.6 301.2L430.9 303.4L430.8 305.6L430.4 307.8L430.1 310.0L430.1 312.2L430.3 314.4L430.5 316.6L430.4 318.8L430.1 321.0L430.0 323.2L430.2 325.4L430.6 327.4C430.5 333.5 434.3 336.2 441.0 336.3"/><path d="M439.7 262.0C433.8 262.1 430.2 264.6 430.2 270.4L430.8 272.6L430.4 274.8L430.0 277.0L429.9 279.2L430.1 281.4L430.4 283.6L430.3 285.8L430.0 288.0L429.8 290.2L429.9 292.4L430.3 294.6L430.7 296.8L430.8 299.0L430.5 301.2L430.3 303.4L430.3 305.6L430.6 307.8L430.8 310.0L430.6 312.2L430.1 314.4L429.8 316.6L429.9 318.8L430.3 321.0L430.7 323.2L430.7 325.4L430.5 327.4C430.5 333.5 434.3 336.2 441.0 336.3"/><path d="M447.5 262.0C441.6 262.1 438.0 264.6 438.0 270.4L438.3 272.6L438.3 274.8L438.0 277.0L437.6 279.2L437.4 281.4L437.7 283.6L438.1 285.8L438.3 288.0L438.2 290.2L437.9 292.4L438.0 294.6L438.3 296.8L438.6 299.0L438.7 301.2L438.3 303.4L437.9 305.6L437.7 307.8L438.0 310.0L438.3 312.2L438.3 314.4L438.0 316.6L437.8 318.8L437.9 321.0L438.4 323.2L438.8 325.4L438.8 327.4C438.3 333.5 442.1 336.2 448.8 336.3"/><path d="M447.5 262.0C441.6 262.1 438.0 264.6 438.0 270.4L437.9 272.6L437.6 274.8L437.8 277.0L438.1 279.2L438.1 281.4L437.9 283.6L437.6 285.8L437.6 288.0L438.0 290.2L438.5 292.4L438.6 294.6L438.4 296.8L438.1 299.0L438.0 301.2L438.2 303.4L438.4 305.6L438.4 307.8L438.0 310.0L437.7 312.2L437.6 314.4L438.0 316.6L438.4 318.8L438.6 321.0L438.4 323.2L438.2 325.4L438.2 327.4C438.3 333.5 442.1 336.2 448.8 336.3"/><path d="M455.3 262.0C449.4 262.1 445.8 264.6 445.8 270.4L445.9 272.6L445.4 274.8L445.2 277.0L445.4 279.2L445.8 281.4L446.1 283.6L446.1 285.8L445.8 288.0L445.7 290.2L446.0 292.4L446.3 294.6L446.4 296.8L446.2 299.0L445.7 301.2L445.5 303.4L445.6 305.6L445.9 307.8L446.1 310.0L446.0 312.2L445.7 314.4L445.7 316.6L446.1 318.8L446.5 321.0L446.7 323.2L446.4 325.4L446.0 327.4C446.1 333.5 449.9 336.2 456.6 336.3"/><path d="M455.3 262.0C449.4 262.1 445.8 264.6 445.8 270.4L445.4 272.6L445.7 274.8L445.9 277.0L445.8 279.2L445.5 281.4L445.4 283.6L445.7 285.8L446.2 288.0L446.5 290.2L446.3 292.4L446.0 294.6L445.7 296.8L445.8 299.0L446.1 301.2L446.2 303.4L445.9 305.6L445.5 307.8L445.4 310.0L445.7 312.2L446.2 314.4L446.4 316.6L446.3 318.8L446.0 321.0L446.0 323.2L446.2 325.4L446.5 327.4C446.1 333.5 449.9 336.2 456.6 336.3"/><path d="M463.1 262.0C457.2 262.1 453.6 264.6 453.6 270.4L453.0 272.6L453.1 274.8L453.5 277.0L453.9 279.2L454.0 281.4L453.8 283.6L453.6 285.8L453.6 288.0L454.0 290.2L454.2 292.4L454.0 294.6L453.6 296.8L453.2 299.0L453.3 301.2L453.6 303.4L453.9 305.6L453.9 307.8L453.6 310.0L453.5 312.2L453.7 314.4L454.2 316.6L454.4 318.8L454.3 321.0L453.9 323.2L453.6 325.4L453.6 327.4C453.9 333.5 457.7 336.2 464.4 336.3"/><path d="M463.1 262.0C457.2 262.1 453.6 264.6 453.6 270.4L453.7 272.6L453.7 274.8L453.4 277.0L453.2 279.2L453.4 281.4L453.9 283.6L454.2 285.8L454.2 288.0L453.8 290.2L453.5 292.4L453.5 294.6L453.7 296.8L453.9 299.0L453.8 301.2L453.4 303.4L453.2 305.6L453.4 307.8L453.9 310.0L454.2 312.2L454.2 314.4L453.9 316.6L453.7 318.8L453.9 321.0L454.2 323.2L454.3 325.4L454.1 327.4C453.9 333.5 457.7 336.2 464.4 336.3"/><path d="M470.9 262.0C465.0 262.1 461.4 264.6 461.4 270.4L461.2 272.6L461.6 274.8L461.8 277.0L461.7 279.2L461.4 281.4L461.4 283.6L461.6 285.8L461.9 288.0L461.8 290.2L461.4 292.4L461.0 294.6L461.0 296.8L461.3 299.0L461.6 301.2L461.7 303.4L461.5 305.6L461.4 307.8L461.5 310.0L461.9 312.2L462.2 314.4L462.1 316.6L461.7 318.8L461.3 321.0L461.3 323.2L461.5 325.4L461.8 327.4C461.7 333.5 465.5 336.2 472.2 336.3"/><path d="M470.9 262.0C465.0 262.1 461.4 264.6 461.4 270.4L461.4 272.6L461.1 274.8L461.2 277.0L461.5 279.2L461.9 281.4L462.0 283.6L461.7 285.8L461.3 288.0L461.2 290.2L461.4 292.4L461.6 294.6L461.6 296.8L461.3 299.0L461.0 301.2L461.1 303.4L461.5 305.6L462.0 307.8L462.1 310.0L461.8 312.2L461.5 314.4L461.5 316.6L461.8 318.8L462.0 321.0L461.9 323.2L461.4 325.4L461.1 327.4C461.7 333.5 465.5 336.2 472.2 336.3"/><path d="M478.7 262.0C472.8 262.1 469.2 264.6 469.2 270.4L469.7 272.6L469.6 274.8L469.3 277.0L469.1 279.2L469.2 281.4L469.5 283.6L469.6 285.8L469.3 288.0L468.9 290.2L468.7 292.4L468.9 294.6L469.4 296.8L469.6 299.0L469.5 301.2L469.2 303.4L469.2 305.6L469.5 307.8L469.9 310.0L469.9 312.2L469.6 314.4L469.2 316.6L469.0 318.8L469.2 321.0L469.5 323.2L469.6 325.4L469.4 327.4C469.5 333.5 473.3 336.2 480.0 336.3"/><path d="M478.7 262.0C472.8 262.1 469.2 264.6 469.2 270.4L468.9 272.6L469.2 274.8L469.6 277.0L469.8 279.2L469.6 281.4L469.1 283.6L468.9 285.8L469.0 288.0L469.3 290.2L469.4 292.4L469.2 294.6L468.9 296.8L468.9 299.0L469.2 301.2L469.7 303.4L469.9 305.6L469.7 307.8L469.4 310.0L469.2 312.2L469.4 314.4L469.7 316.6L469.7 318.8L469.3 321.0L468.9 323.2L468.9 325.4L469.2 327.4C469.5 333.5 473.3 336.2 480.0 336.3"/><path d="M416.7 339.5C410.8 339.6 407.2 342.1 407.2 347.9L407.3 350.1L407.6 352.3L407.7 354.5L407.4 356.7L406.9 358.9L406.7 361.1L406.9 363.3L407.3 365.5L407.5 367.7L407.3 369.9L407.1 372.1L407.1 374.3L407.5 376.5L407.9 378.7L408.0 380.9L407.7 383.1L407.2 385.3L407.1 387.5L407.3 389.7L407.5 391.9L407.6 393.8C407.5 399.9 411.3 402.6 418.0 402.7"/><path d="M416.7 339.5C410.8 339.6 407.2 342.1 407.2 347.9L407.6 350.1L407.2 352.3L407.0 354.5L407.1 356.7L407.4 358.9L407.4 361.1L407.2 363.3L406.8 365.5L406.8 367.7L407.1 369.9L407.6 372.1L407.8 374.3L407.6 376.5L407.3 378.7L407.3 380.9L407.5 383.1L407.8 385.3L407.8 387.5L407.4 389.7L407.0 391.9L406.9 393.8C407.5 399.9 411.3 402.6 418.0 402.7"/><path d="M424.5 339.5C418.6 339.6 415.0 342.1 415.0 347.9L415.4 350.1L415.2 352.3L414.8 354.5L414.5 356.7L414.6 358.9L415.0 361.1L415.3 363.3L415.2 365.5L415.0 367.7L414.9 369.9L415.1 372.1L415.6 374.3L415.7 376.5L415.5 378.7L415.1 380.9L414.8 383.1L414.9 385.3L415.2 387.5L415.3 389.7L415.2 391.9L414.9 393.8C415.3 399.9 419.1 402.6 425.8 402.7"/><path d="M424.5 339.5C418.6 339.6 415.0 342.1 415.0 347.9L414.7 350.1L414.7 352.3L415.0 354.5L415.2 356.7L415.0 358.9L414.7 361.1L414.6 363.3L414.8 365.5L415.3 367.7L415.6 369.9L415.5 372.1L415.2 374.3L415.0 376.5L415.2 378.7L415.4 380.9L415.5 383.1L415.2 385.3L414.8 387.5L414.6 389.7L414.9 391.9L415.2 393.8C415.3 399.9 419.1 402.6 425.8 402.7"/><path d="M432.3 339.5C426.4 339.6 422.8 342.1 422.8 347.9L422.6 350.1L422.3 352.3L422.3 354.5L422.6 356.7L423.0 358.9L423.1 361.1L422.9 363.3L422.7 365.5L422.8 367.7L423.2 369.9L423.5 372.1L423.4 374.3L422.9 376.5L422.6 378.7L422.6 380.9L422.9 383.1L423.1 385.3L423.0 387.5L422.8 389.7L422.6 391.9L422.8 393.8C423.1 399.9 426.9 402.6 433.6 402.7"/><path d="M432.3 339.5C426.4 339.6 422.8 342.1 422.8 347.9L422.6 350.1L422.9 352.3L422.9 354.5L422.6 356.7L422.4 358.9L422.5 361.1L423.0 363.3L423.4 365.5L423.4 367.7L423.1 369.9L422.8 372.1L422.8 374.3L423.1 376.5L423.2 378.7L423.1 380.9L422.7 383.1L422.4 385.3L422.5 387.5L423.0 389.7L423.3 391.9L423.4 393.8C423.1 399.9 426.9 402.6 433.6 402.7"/><path d="M440.1 339.5C434.2 339.6 430.6 342.1 430.6 347.9L430.0 350.1L430.3 352.3L430.8 354.5L431.0 356.7L430.8 358.9L430.6 361.1L430.6 363.3L430.9 365.5L431.2 367.7L431.2 369.9L430.8 372.1L430.4 374.3L430.2 376.5L430.5 378.7L430.8 380.9L430.9 383.1L430.7 385.3L430.5 387.5L430.6 389.7L431.0 391.9L431.4 393.8C430.9 399.9 434.7 402.6 441.4 402.7"/><path d="M440.1 339.5C434.2 339.6 430.6 342.1 430.6 347.9L430.7 350.1L430.5 352.3L430.3 354.5L430.3 356.7L430.7 358.9L431.1 361.1L431.3 363.3L431.0 365.5L430.6 367.7L430.5 369.9L430.7 372.1L430.9 374.3L430.9 376.5L430.6 378.7L430.2 380.9L430.3 383.1L430.7 385.3L431.1 387.5L431.2 389.7L431.0 391.9L430.8 393.8C430.9 399.9 434.7 402.6 441.4 402.7"/><path d="M447.9 339.5C442.0 339.6 438.4 342.1 438.4 347.9L438.5 350.1L438.8 352.3L438.8 354.5L438.5 356.7L438.3 358.9L438.5 361.1L438.9 363.3L439.0 365.5L438.7 367.7L438.2 369.9L438.0 372.1L438.1 374.3L438.5 376.5L438.7 378.7L438.6 380.9L438.4 383.1L438.4 385.3L438.7 387.5L439.1 389.7L439.2 391.9L439.0 393.8C438.7 399.9 442.5 402.6 449.2 402.7"/><path d="M447.9 339.5C442.0 339.6 438.4 342.1 438.4 347.9L438.2 350.1L438.1 352.3L438.4 354.5L438.8 356.7L439.1 358.9L438.9 361.1L438.5 363.3L438.2 365.5L438.3 367.7L438.6 369.9L438.7 372.1L438.4 374.3L438.1 376.5L438.0 378.7L438.3 380.9L438.8 383.1L439.1 385.3L438.9 387.5L438.6 389.7L438.5 391.9L438.7 393.8C438.7 399.9 442.5 402.6 449.2 402.7"/><path d="M455.7 339.5C449.8 339.6 446.2 342.1 446.2 347.9L446.6 350.1L446.4 352.3L446.1 354.5L446.2 356.7L446.5 358.9L446.7 361.1L446.5 363.3L446.1 365.5L445.7 367.7L445.8 369.9L446.2 372.1L446.5 374.3L446.5 376.5L446.3 378.7L446.2 380.9L446.4 383.1L446.8 385.3L447.0 387.5L446.8 389.7L446.4 391.9L446.1 393.8C446.5 399.9 450.3 402.6 457.0 402.7"/><path d="M455.7 339.5C449.8 339.6 446.2 342.1 446.2 347.9L446.1 350.1L446.5 352.3L446.8 354.5L446.8 356.7L446.4 358.9L446.0 361.1L446.0 363.3L446.2 365.5L446.4 367.7L446.3 369.9L446.0 372.1L445.8 374.3L446.0 376.5L446.5 378.7L446.9 380.9L446.8 383.1L446.5 385.3L446.3 387.5L446.4 389.7L446.7 391.9L446.8 393.8C446.5 399.9 450.3 402.6 457.0 402.7"/><path d="M463.5 339.5C457.6 339.6 454.0 342.1 454.0 347.9L454.0 350.1L453.9 352.3L454.1 354.5L454.4 356.7L454.3 358.9L453.9 361.1L453.6 363.3L453.5 365.5L453.9 367.7L454.3 369.9L454.4 372.1L454.2 374.3L454.0 376.5L454.1 378.7L454.4 380.9L454.7 383.1L454.7 385.3L454.2 387.5L453.8 389.7L453.8 391.9L454.0 393.8C454.3 399.9 458.1 402.6 464.8 402.7"/><path d="M463.5 339.5C457.6 339.6 454.0 342.1 454.0 347.9L454.5 350.1L454.6 352.3L454.2 354.5L453.8 356.7L453.7 358.9L453.9 361.1L454.1 363.3L454.2 365.5L453.9 367.7L453.7 369.9L453.8 372.1L454.2 374.3L454.6 376.5L454.7 378.7L454.4 380.9L454.1 383.1L454.1 385.3L454.3 387.5L454.5 389.7L454.4 391.9L454.0 393.8C454.3 399.9 458.1 402.6 464.8 402.7"/><path d="M471.3 339.5C465.4 339.6 461.8 342.1 461.8 347.9L461.8 350.1L462.0 352.3L462.1 354.5L461.8 356.7L461.4 358.9L461.3 361.1L461.5 363.3L462.0 365.5L462.2 367.7L462.1 369.9L461.9 372.1L461.8 374.3L462.1 376.5L462.4 378.7L462.5 380.9L462.1 383.1L461.7 385.3L461.5 387.5L461.7 389.7L462.1 391.9L462.2 393.8C462.1 399.9 465.9 402.6 472.6 402.7"/><path d="M471.3 339.5C465.4 339.6 461.8 342.1 461.8 347.9L462.1 350.1L461.6 352.3L461.4 354.5L461.5 356.7L461.8 358.9L462.0 361.1L461.8 363.3L461.5 365.5L461.5 367.7L461.9 369.9L462.4 372.1L462.5 374.3L462.3 376.5L461.9 378.7L461.8 380.9L461.9 383.1L462.2 385.3L462.2 387.5L461.9 389.7L461.5 391.9L461.5 393.8C462.1 399.9 465.9 402.6 472.6 402.7"/><path d="M479.1 339.5C473.2 339.6 469.6 342.1 469.6 347.9L469.8 350.1L469.7 352.3L469.3 354.5L469.1 356.7L469.2 358.9L469.7 361.1L470.1 363.3L470.0 365.5L469.8 367.7L469.6 369.9L469.8 372.1L470.1 374.3L470.2 376.5L470.0 378.7L469.5 380.9L469.2 383.1L469.4 385.3L469.8 387.5L470.0 389.7L469.9 391.9L469.7 393.8C469.9 399.9 473.7 402.6 480.4 402.7"/><path d="M479.1 339.5C473.2 339.6 469.6 342.1 469.6 347.9L469.1 350.1L469.2 352.3L469.5 354.5L469.8 356.7L469.7 358.9L469.5 361.1L469.3 363.3L469.6 365.5L470.0 367.7L470.3 369.9L470.2 372.1L469.8 374.3L469.5 376.5L469.6 378.7L469.8 380.9L470.0 383.1L469.7 385.3L469.4 387.5L469.3 389.7L469.6 391.9L470.0 393.8C469.9 399.9 473.7 402.6 480.4 402.7"/><path d="M417.1 405.9C411.2 406.0 407.6 408.5 407.6 414.3L407.8 416.5L407.9 418.7L407.7 420.9L407.3 423.1L407.0 425.3L407.2 427.5L407.6 429.7L407.9 431.9L407.9 434.1L407.7 436.3L407.5 438.5L407.7 440.7L408.1 442.9L408.3 445.1L408.0 447.3L407.6 449.5L407.3 451.7L407.4 453.9L407.7 456.1L407.9 458.3L407.8 460.5L407.5 462.5C407.8 468.6 411.6 471.3 418.3 471.4"/><path d="M417.1 405.9C411.2 406.0 407.6 408.5 407.6 414.3L407.6 416.5L407.2 418.7L407.2 420.9L407.5 423.1L407.7 425.3L407.6 427.5L407.3 429.7L407.2 431.9L407.5 434.1L407.9 436.3L408.3 438.5L408.2 440.7L407.8 442.9L407.6 445.1L407.7 447.3L407.9 449.5L408.0 451.7L407.8 453.9L407.4 456.1L407.2 458.3L407.5 460.5L407.9 462.5C407.8 468.6 411.6 471.3 418.3 471.4"/><path d="M424.9 405.9C419.0 406.0 415.4 408.5 415.4 414.3L415.6 416.5L415.2 418.7L414.8 420.9L414.9 423.1L415.3 425.3L415.7 427.5L415.8 429.7L415.6 431.9L415.4 434.1L415.4 436.3L415.8 438.5L416.0 440.7L415.9 442.9L415.5 445.1L415.1 447.3L415.1 449.5L415.4 451.7L415.7 453.9L415.7 456.1L415.4 458.3L415.3 460.5L415.5 462.5C415.6 468.6 419.4 471.3 426.1 471.4"/><path d="M424.9 405.9C419.0 406.0 415.4 408.5 415.4 414.3L414.9 416.5L415.2 418.7L415.5 420.9L415.5 423.1L415.3 425.3L415.0 427.5L415.2 429.7L415.6 431.9L416.0 434.1L416.0 436.3L415.7 438.5L415.4 440.7L415.3 442.9L415.6 445.1L415.7 447.3L415.6 449.5L415.3 451.7L415.0 453.9L415.2 456.1L415.6 458.3L416.0 460.5L416.0 462.5C415.6 468.6 419.4 471.3 426.1 471.4"/><path d="M432.7 405.9C426.8 406.0 423.2 408.5 423.2 414.3L422.7 416.5L422.6 418.7L422.9 420.9L423.4 423.1L423.6 425.3L423.5 427.5L423.2 429.7L423.2 431.9L423.4 434.1L423.7 436.3L423.7 438.5L423.3 440.7L422.9 442.9L422.8 445.1L423.0 447.3L423.4 449.5L423.5 451.7L423.4 453.9L423.2 456.1L423.2 458.3L423.6 460.5L424.0 462.5C423.4 468.6 427.2 471.3 433.9 471.4"/><path d="M432.7 405.9C426.8 406.0 423.2 408.5 423.2 414.3L423.2 416.5L423.3 418.7L423.2 420.9L422.9 423.1L422.9 425.3L423.3 427.5L423.7 429.7L423.9 431.9L423.6 434.1L423.2 436.3L423.0 438.5L423.2 440.7L423.4 442.9L423.4 445.1L423.1 447.3L422.8 449.5L422.9 451.7L423.3 453.9L423.7 456.1L423.9 458.3L423.7 460.5L423.4 462.5C423.4 468.6 427.2 471.3 433.9 471.4"/><path d="M440.5 405.9C434.6 406.0 431.0 408.5 431.0 414.3L430.6 416.5L431.1 418.7L431.5 420.9L431.4 423.1L431.1 425.3L430.9 427.5L431.1 429.7L431.4 431.9L431.5 434.1L431.2 436.3L430.7 438.5L430.5 440.7L430.7 442.9L431.1 445.1L431.4 447.3L431.3 449.5L431.0 451.7L431.0 453.9L431.3 456.1L431.7 458.3L431.8 460.5L431.5 462.5C431.2 468.6 435.0 471.3 441.7 471.4"/><path d="M440.5 405.9C434.6 406.0 431.0 408.5 431.0 414.3L431.1 416.5L430.8 418.7L430.7 420.9L431.0 423.1L431.4 425.3L431.6 427.5L431.5 429.7L431.0 431.9L430.7 434.1L430.8 436.3L431.1 438.5L431.2 440.7L431.0 442.9L430.7 445.1L430.7 447.3L431.0 449.5L431.5 451.7L431.7 453.9L431.6 456.1L431.2 458.3L431.1 460.5L431.2 462.5C431.2 468.6 435.0 471.3 441.7 471.4"/><path d="M448.3 405.9C442.4 406.0 438.8 408.5 438.8 414.3L439.2 416.5L439.3 418.7L439.0 420.9L438.7 423.1L438.7 425.3L439.0 427.5L439.2 429.7L439.0 431.9L438.6 434.1L438.3 436.3L438.4 438.5L438.8 440.7L439.2 442.9L439.2 445.1L439.0 447.3L438.8 449.5L439.0 451.7L439.3 453.9L439.5 456.1L439.3 458.3L438.9 460.5L438.6 462.5C439.0 468.6 442.8 471.3 449.5 471.4"/><path d="M448.3 405.9C442.4 406.0 438.8 408.5 438.8 414.3L438.6 416.5L438.7 418.7L439.1 420.9L439.4 423.1L439.3 425.3L438.9 427.5L438.5 429.7L438.5 431.9L438.7 434.1L439.0 436.3L438.9 438.5L438.6 440.7L438.5 442.9L438.7 445.1L439.2 447.3L439.5 449.5L439.5 451.7L439.1 453.9L438.8 456.1L438.9 458.3L439.2 460.5L439.3 462.5C439.0 468.6 442.8 471.3 449.5 471.4"/><path d="M456.1 405.9C450.2 406.0 446.6 408.5 446.6 414.3L446.9 416.5L446.6 418.7L446.4 420.9L446.6 423.1L446.9 425.3L446.8 427.5L446.5 429.7L446.1 431.9L446.1 434.1L446.5 436.3L446.9 438.5L447.1 440.7L446.9 442.9L446.6 445.1L446.7 447.3L447.0 449.5L447.3 451.7L447.2 453.9L446.7 456.1L446.3 458.3L446.3 460.5L446.6 462.5C446.8 468.6 450.6 471.3 457.3 471.4"/><path d="M456.1 405.9C450.2 406.0 446.6 408.5 446.6 414.3L446.7 416.5L447.1 418.7L447.1 420.9L446.8 423.1L446.3 425.3L446.2 427.5L446.4 429.7L446.7 431.9L446.8 434.1L446.5 436.3L446.3 438.5L446.4 440.7L446.8 442.9L447.3 445.1L447.3 447.3L447.0 449.5L446.6 451.7L446.6 453.9L446.8 456.1L447.0 458.3L446.9 460.5L446.6 462.5C446.8 468.6 450.6 471.3 457.3 471.4"/><path d="M463.9 405.9C458.0 406.0 454.4 408.5 454.4 414.3L454.2 416.5L454.2 418.7L454.5 420.9L454.6 423.1L454.4 425.3L454.0 427.5L453.9 429.7L454.2 431.9L454.6 434.1L454.9 436.3L454.8 438.5L454.5 440.7L454.4 442.9L454.6 445.1L454.9 447.3L455.0 449.5L454.6 451.7L454.2 453.9L454.0 456.1L454.3 458.3L454.7 460.5L454.8 462.5C454.6 468.6 458.4 471.3 465.1 471.4"/><path d="M463.9 405.9C458.0 406.0 454.4 408.5 454.4 414.3L454.9 416.5L454.6 418.7L454.1 420.9L453.9 423.1L454.0 425.3L454.4 427.5L454.6 429.7L454.5 431.9L454.2 434.1L454.2 436.3L454.5 438.5L455.0 440.7L455.1 442.9L454.9 445.1L454.5 447.3L454.3 449.5L454.4 451.7L454.7 453.9L454.7 456.1L454.4 458.3L454.1 460.5L454.1 462.5C454.6 468.6 458.4 471.3 465.1 471.4"/><path d="M471.7 405.9C465.8 406.0 462.2 408.5 462.2 414.3L462.1 416.5L462.3 418.7L462.2 420.9L461.9 423.1L461.7 425.3L461.9 427.5L462.3 429.7L462.7 431.9L462.7 434.1L462.4 436.3L462.2 438.5L462.3 440.7L462.6 442.9L462.7 445.1L462.5 447.3L462.0 449.5L461.8 451.7L461.9 453.9L462.4 456.1L462.6 458.3L462.6 460.5L462.4 462.5C462.4 468.6 466.2 471.3 472.9 471.4"/><path d="M471.7 405.9C465.8 406.0 462.2 408.5 462.2 414.3L462.0 416.5L461.7 418.7L461.7 420.9L462.1 423.1L462.4 425.3L462.4 427.5L462.1 429.7L462.0 431.9L462.2 434.1L462.6 436.3L462.9 438.5L462.7 440.7L462.3 442.9L462.0 445.1L462.0 447.3L462.3 449.5L462.5 451.7L462.3 453.9L462.0 456.1L461.9 458.3L462.2 460.5L462.7 462.5C462.4 468.6 466.2 471.3 472.9 471.4"/><path d="M479.5 405.9C473.6 406.0 470.0 408.5 470.0 414.3L470.1 416.5L469.8 418.7L469.5 420.9L469.6 423.1L470.0 425.3L470.5 427.5L470.6 429.7L470.3 431.9L470.0 434.1L470.0 436.3L470.2 438.5L470.4 440.7L470.3 442.9L469.9 445.1L469.6 447.3L469.6 449.5L470.0 451.7L470.4 453.9L470.5 456.1L470.2 458.3L470.1 460.5L470.2 462.5C470.2 468.6 474.0 471.3 480.7 471.4"/><path d="M479.5 405.9C473.6 406.0 470.0 408.5 470.0 414.3L469.4 416.5L469.7 418.7L470.1 420.9L470.2 423.1L470.1 425.3L469.9 427.5L469.9 429.7L470.3 431.9L470.6 434.1L470.6 436.3L470.2 438.5L469.8 440.7L469.7 442.9L470.0 445.1L470.2 447.3L470.2 449.5L469.9 451.7L469.7 453.9L469.9 456.1L470.4 458.3L470.8 460.5L470.8 462.5C470.2 468.6 474.0 471.3 480.7 471.4"/><path d="M417.4 474.6C411.5 474.7 407.9 477.2 407.9 483.0L408.1 485.2L407.7 487.4L407.4 489.6L407.5 491.8L407.9 494.0L408.3 496.2L408.4 498.4L408.2 500.6L408.0 502.8L408.0 505.0L408.3 507.2L408.5 509.4L408.4 511.6L407.9 513.8L407.6 516.0L407.6 518.2L408.0 520.4L408.3 522.6L408.3 524.8L408.1 527.0L408.0 529.2L408.2 531.4L408.6 533.6L408.8 535.8L408.7 538.0L408.2 540.2L408.2 540.3C408.3 546.4 412.1 549.1 418.8 549.2"/><path d="M417.4 474.6C411.5 474.7 407.9 477.2 407.9 483.0L407.4 485.2L407.7 487.4L408.0 489.6L408.1 491.8L407.9 494.0L407.7 496.2L407.8 498.4L408.3 500.6L408.6 502.8L408.6 505.0L408.2 507.2L407.9 509.4L407.8 511.6L408.1 513.8L408.3 516.0L408.2 518.2L407.8 520.4L407.6 522.6L407.8 524.8L408.3 527.0L408.7 529.2L408.7 531.4L408.4 533.6L408.1 535.8L408.2 538.0L408.5 540.2L408.5 540.3C408.3 546.4 412.1 549.1 418.8 549.2"/><path d="M425.2 474.6C419.3 474.7 415.7 477.2 415.7 483.0L415.3 485.2L415.2 487.4L415.6 489.6L416.1 491.8L416.3 494.0L416.1 496.2L415.8 498.4L415.7 500.6L415.9 502.8L416.2 505.0L416.2 507.2L415.8 509.4L415.4 511.6L415.3 513.8L415.6 516.0L416.0 518.2L416.2 520.4L416.0 522.6L415.8 524.8L415.9 527.0L416.2 529.2L416.5 531.4L416.5 533.6L416.1 535.8L415.7 538.0L415.6 540.2L415.6 540.3C416.1 546.4 419.9 549.1 426.6 549.2"/><path d="M425.2 474.6C419.3 474.7 415.7 477.2 415.7 483.0L415.7 485.2L416.0 487.4L415.8 489.6L415.6 491.8L415.6 494.0L415.9 496.2L416.3 498.4L416.4 500.6L416.1 502.8L415.7 505.0L415.5 507.2L415.7 509.4L416.0 511.6L416.0 513.8L415.7 516.0L415.5 518.2L415.5 520.4L416.0 522.6L416.4 524.8L416.5 527.0L416.3 529.2L415.9 531.4L415.9 533.6L416.1 535.8L416.3 538.0L416.2 540.2L416.2 540.3C416.1 546.4 419.9 549.1 426.6 549.2"/><path d="M433.0 474.6C427.1 474.7 423.5 477.2 423.5 483.0L423.3 485.2L423.8 487.4L424.1 489.6L424.0 491.8L423.7 494.0L423.5 496.2L423.6 498.4L423.9 500.6L423.9 502.8L423.7 505.0L423.3 507.2L423.1 509.4L423.3 511.6L423.8 513.8L424.0 516.0L423.9 518.2L423.7 520.4L423.6 522.6L423.9 524.8L424.2 527.0L424.3 529.2L424.0 531.4L423.5 533.6L423.3 535.8L423.5 538.0L423.9 540.2L423.9 540.3C423.9 546.4 427.7 549.1 434.4 549.2"/><path d="M433.0 474.6C427.1 474.7 423.5 477.2 423.5 483.0L423.7 485.2L423.5 487.4L423.4 489.6L423.6 491.8L424.0 494.0L424.2 496.2L424.0 498.4L423.5 500.6L423.2 502.8L423.3 505.0L423.6 507.2L423.8 509.4L423.6 511.6L423.4 513.8L423.3 516.0L423.6 518.2L424.1 520.4L424.3 522.6L424.2 524.8L423.8 527.0L423.6 529.2L423.7 531.4L424.0 533.6L424.0 535.8L423.7 538.0L423.4 540.2L423.3 540.3C423.9 546.4 427.7 549.1 434.4 549.2"/><path d="M440.8 474.6C434.9 474.7 431.3 477.2 431.3 483.0L431.9 485.2L431.9 487.4L431.6 489.6L431.3 491.8L431.2 494.0L431.5 496.2L431.7 498.4L431.5 500.6L431.1 502.8L430.9 505.0L431.0 507.2L431.4 509.4L431.8 511.6L431.9 513.8L431.6 516.0L431.4 518.2L431.6 520.4L431.9 522.6L432.1 524.8L431.8 527.0L431.4 529.2L431.1 531.4L431.2 533.6L431.5 535.8L431.8 538.0L431.7 540.2L431.7 540.3C431.7 546.4 435.5 549.1 442.2 549.2"/><path d="M440.8 474.6C434.9 474.7 431.3 477.2 431.3 483.0L431.2 485.2L431.3 487.4L431.7 489.6L431.9 491.8L431.8 494.0L431.4 496.2L431.0 498.4L431.0 500.6L431.3 502.8L431.6 505.0L431.5 507.2L431.3 509.4L431.1 511.6L431.3 513.8L431.8 516.0L432.1 518.2L432.0 520.4L431.6 522.6L431.3 524.8L431.4 527.0L431.6 529.2L431.8 531.4L431.6 533.6L431.2 535.8L431.1 538.0L431.3 540.2L431.3 540.3C431.7 546.4 435.5 549.1 442.2 549.2"/><path d="M448.6 474.6C442.7 474.7 439.1 477.2 439.1 483.0L439.5 485.2L439.1 487.4L438.9 489.6L439.1 491.8L439.4 494.0L439.3 496.2L439.0 498.4L438.7 500.6L438.7 502.8L439.1 505.0L439.6 507.2L439.7 509.4L439.5 511.6L439.3 513.8L439.2 516.0L439.5 518.2L439.8 520.4L439.7 522.6L439.2 524.8L438.9 527.0L438.9 529.2L439.2 531.4L439.6 533.6L439.6 535.8L439.4 538.0L439.2 540.2L439.2 540.3C439.5 546.4 443.3 549.1 450.0 549.2"/><path d="M448.6 474.6C442.7 474.7 439.1 477.2 439.1 483.0L439.3 485.2L439.6 487.4L439.6 489.6L439.2 491.8L438.8 494.0L438.7 496.2L438.9 498.4L439.3 500.6L439.4 502.8L439.2 505.0L439.0 507.2L439.1 509.4L439.5 511.6L439.9 513.8L439.9 516.0L439.5 518.2L439.1 520.4L439.0 522.6L439.3 524.8L439.5 527.0L439.4 529.2L439.1 531.4L438.9 533.6L439.0 535.8L439.5 538.0L439.9 540.2L439.9 540.3C439.5 546.4 443.3 549.1 450.0 549.2"/><path d="M456.4 474.6C450.5 474.7 446.9 477.2 446.9 483.0L446.7 485.2L446.7 487.4L447.0 489.6L447.1 491.8L446.9 494.0L446.6 496.2L446.5 498.4L446.8 500.6L447.3 502.8L447.6 505.0L447.4 507.2L447.1 509.4L447.0 511.6L447.2 513.8L447.4 516.0L447.5 518.2L447.1 520.4L446.7 522.6L446.6 524.8L446.9 527.0L447.3 529.2L447.5 531.4L447.3 533.6L447.1 535.8L447.1 538.0L447.5 540.2L447.5 540.3C447.3 546.4 451.1 549.1 457.8 549.2"/><path d="M456.4 474.6C450.5 474.7 446.9 477.2 446.9 483.0L447.4 485.2L447.1 487.4L446.6 489.6L446.4 491.8L446.6 494.0L447.0 496.2L447.2 498.4L447.1 500.6L446.9 502.8L446.8 505.0L447.2 507.2L447.6 509.4L447.7 511.6L447.4 513.8L447.0 516.0L446.7 518.2L446.9 520.4L447.2 522.6L447.3 524.8L447.0 527.0L446.8 529.2L446.8 531.4L447.2 533.6L447.6 535.8L447.8 538.0L447.6 540.2L447.5 540.3C447.3 546.4 451.1 549.1 457.8 549.2"/><path d="M464.2 474.6C458.3 474.7 454.7 477.2 454.7 483.0L454.7 485.2L454.9 487.4L454.8 489.6L454.5 491.8L454.3 494.0L454.5 496.2L455.0 498.4L455.4 500.6L455.3 502.8L455.0 505.0L454.7 507.2L454.8 509.4L455.1 511.6L455.2 513.8L455.0 516.0L454.6 518.2L454.3 520.4L454.5 522.6L455.0 524.8L455.3 527.0L455.2 529.2L455.0 531.4L454.9 533.6L455.1 535.8L455.5 538.0L455.6 540.2L455.6 540.3C455.1 546.4 458.9 549.1 465.6 549.2"/><path d="M464.2 474.6C458.3 474.7 454.7 477.2 454.7 483.0L454.5 485.2L454.2 487.4L454.3 489.6L454.7 491.8L455.0 494.0L455.0 496.2L454.8 498.4L454.7 500.6L454.8 502.8L455.2 505.0L455.4 507.2L455.3 509.4L454.8 511.6L454.5 513.8L454.5 516.0L454.9 518.2L455.1 520.4L454.9 522.6L454.7 524.8L454.6 527.0L454.9 529.2L455.3 531.4L455.6 533.6L455.4 535.8L455.1 538.0L454.9 540.2L454.8 540.3C455.1 546.4 458.9 549.1 465.6 549.2"/><path d="M472.0 474.6C466.1 474.7 462.5 477.2 462.5 483.0L462.6 485.2L462.4 487.4L462.2 489.6L462.3 491.8L462.7 494.0L463.1 496.2L463.2 498.4L462.9 500.6L462.5 502.8L462.5 505.0L462.7 507.2L462.9 509.4L462.8 511.6L462.4 513.8L462.1 516.0L462.2 518.2L462.7 520.4L463.1 522.6L463.1 524.8L462.9 527.0L462.7 529.2L462.8 531.4L463.1 533.6L463.3 535.8L463.1 538.0L462.7 540.2L462.6 540.3C462.9 546.4 466.7 549.1 473.4 549.2"/><path d="M472.0 474.6C466.1 474.7 462.5 477.2 462.5 483.0L462.0 485.2L462.3 487.4L462.8 489.6L462.9 491.8L462.7 494.0L462.5 496.2L462.6 498.4L462.9 500.6L463.2 502.8L463.1 505.0L462.7 507.2L462.3 509.4L462.2 511.6L462.5 513.8L462.8 516.0L462.8 518.2L462.6 520.4L462.4 522.6L462.6 524.8L463.0 527.0L463.4 529.2L463.3 531.4L462.9 533.6L462.6 535.8L462.6 538.0L462.9 540.2L462.9 540.3C462.9 546.4 466.7 549.1 473.4 549.2"/><path d="M479.8 474.6C473.9 474.7 470.3 477.2 470.3 483.0L470.1 485.2L470.0 487.4L470.4 489.6L470.8 491.8L471.0 494.0L470.8 496.2L470.4 498.4L470.2 500.6L470.3 502.8L470.6 505.0L470.6 507.2L470.3 509.4L470.0 511.6L470.0 513.8L470.4 516.0L470.8 518.2L471.0 520.4L470.8 522.6L470.5 524.8L470.5 527.0L470.8 529.2L471.0 531.4L470.9 533.6L470.5 535.8L470.1 538.0L470.1 540.2L470.1 540.3C470.7 546.4 474.5 549.1 481.2 549.2"/><path d="M479.8 474.6C473.9 474.7 470.3 477.2 470.3 483.0L470.5 485.2L470.7 487.4L470.6 489.6L470.4 491.8L470.3 494.0L470.5 496.2L470.8 498.4L470.9 500.6L470.5 502.8L470.1 505.0L469.9 507.2L470.2 509.4L470.5 511.6L470.7 513.8L470.5 516.0L470.3 518.2L470.3 520.4L470.7 522.6L471.1 524.8L471.2 527.0L470.8 529.2L470.4 531.4L470.3 533.6L470.5 535.8L470.8 538.0L470.7 540.2L470.7 540.3C470.7 546.4 474.5 549.1 481.2 549.2"/><path d="M417.9 552.4C412.0 552.5 408.4 555.0 408.4 560.8L408.9 563.0L408.7 565.2L408.4 567.4L408.3 569.6L408.5 571.8L408.7 574.0L408.6 576.2L408.3 578.4L407.9 580.6L407.9 582.8L408.3 585.0L408.7 587.2L408.9 589.4L408.6 591.6L408.4 593.8L408.5 596.0L408.8 598.2L409.1 600.4L409.0 602.6L408.5 604.8L408.3 606.1C408.6 612.2 412.4 614.9 419.1 615.0"/><path d="M417.9 552.4C412.0 552.5 408.4 555.0 408.4 560.8L408.3 563.0L408.6 565.2L408.9 567.4L408.9 569.6L408.5 571.8L408.1 574.0L408.0 576.2L408.2 578.4L408.5 580.6L408.6 582.8L408.3 585.0L408.1 587.2L408.2 589.4L408.7 591.6L409.1 593.8L409.1 596.0L408.8 598.2L408.4 600.4L408.4 602.6L408.6 604.8L408.8 606.1C408.6 612.2 412.4 614.9 419.1 615.0"/><path d="M425.7 552.4C419.8 552.5 416.2 555.0 416.2 560.8L416.2 563.0L416.0 565.2L416.1 567.4L416.4 569.6L416.4 571.8L416.2 574.0L415.8 576.2L415.7 578.4L416.0 580.6L416.5 582.8L416.7 585.0L416.6 587.2L416.3 589.4L416.2 591.6L416.5 593.8L416.8 596.0L416.8 598.2L416.4 600.4L416.0 602.6L415.9 604.8L416.0 606.1C416.4 612.2 420.2 614.9 426.9 615.0"/><path d="M425.7 552.4C419.8 552.5 416.2 555.0 416.2 560.8L416.6 563.0L416.7 565.2L416.4 567.4L416.0 569.6L415.7 571.8L415.9 574.0L416.2 576.2L416.4 578.4L416.2 580.6L416.0 582.8L416.0 585.0L416.4 587.2L416.8 589.4L416.9 591.6L416.7 593.8L416.3 596.0L416.1 598.2L416.3 600.4L416.5 602.6L416.5 604.8L416.4 606.1C416.4 612.2 420.2 614.9 426.9 615.0"/><path d="M433.5 552.4C427.6 552.5 424.0 555.0 424.0 560.8L423.8 563.0L424.0 565.2L424.2 567.4L424.0 569.6L423.7 571.8L423.5 574.0L423.7 576.2L424.2 578.4L424.5 580.6L424.5 582.8L424.2 585.0L424.0 587.2L424.1 589.4L424.4 591.6L424.5 593.8L424.3 596.0L423.8 598.2L423.6 600.4L423.8 602.6L424.2 604.8L424.4 606.1C424.2 612.2 428.0 614.9 434.7 615.0"/><path d="M433.5 552.4C427.6 552.5 424.0 555.0 424.0 560.8L424.3 563.0L423.8 565.2L423.5 567.4L423.5 569.6L423.9 571.8L424.2 574.0L424.1 576.2L423.9 578.4L423.8 580.6L424.1 582.8L424.5 585.0L424.7 587.2L424.5 589.4L424.1 591.6L423.8 593.8L423.9 596.0L424.2 598.2L424.3 600.4L424.1 602.6L423.8 604.8L423.7 606.1C424.2 612.2 428.0 614.9 434.7 615.0"/><path d="M441.3 552.4C435.4 552.5 431.8 555.0 431.8 560.8L431.9 563.0L431.9 565.2L431.6 567.4L431.3 569.6L431.4 571.8L431.9 574.0L432.3 576.2L432.4 578.4L432.1 580.6L431.8 582.8L431.8 585.0L432.1 587.2L432.3 589.4L432.1 591.6L431.7 593.8L431.4 596.0L431.5 598.2L431.9 600.4L432.2 602.6L432.3 604.8L432.1 606.1C432.0 612.2 435.8 614.9 442.5 615.0"/><path d="M441.3 552.4C435.4 552.5 431.8 555.0 431.8 560.8L431.3 563.0L431.2 565.2L431.6 567.4L431.9 569.6L432.0 571.8L431.8 574.0L431.6 576.2L431.8 578.4L432.2 580.6L432.5 582.8L432.4 585.0L432.0 587.2L431.6 589.4L431.6 591.6L431.8 593.8L432.1 596.0L432.0 598.2L431.7 600.4L431.5 602.6L431.7 604.8L432.0 606.1C432.0 612.2 435.8 614.9 442.5 615.0"/><path d="M449.1 552.4C443.2 552.5 439.6 555.0 439.6 560.8L439.5 563.0L439.2 565.2L439.2 567.4L439.5 569.6L440.0 571.8L440.2 574.0L440.0 576.2L439.6 578.4L439.5 580.6L439.7 582.8L440.0 585.0L439.9 587.2L439.6 589.4L439.2 591.6L439.2 593.8L439.5 596.0L440.0 598.2L440.1 600.4L439.9 602.6L439.7 604.8L439.7 606.1C439.8 612.2 443.6 614.9 450.3 615.0"/><path d="M449.1 552.4C443.2 552.5 439.6 555.0 439.6 560.8L439.2 563.0L439.7 565.2L439.9 567.4L439.8 569.6L439.5 571.8L439.5 574.0L439.8 576.2L440.2 578.4L440.2 580.6L439.8 582.8L439.4 585.0L439.2 587.2L439.5 589.4L439.8 591.6L439.8 593.8L439.6 596.0L439.4 598.2L439.5 600.4L439.9 602.6L440.3 604.8L440.4 606.1C439.8 612.2 443.6 614.9 450.3 615.0"/><path d="M456.9 552.4C451.0 552.5 447.4 555.0 447.4 560.8L447.0 563.0L447.2 565.2L447.7 567.4L448.0 569.6L447.9 571.8L447.5 574.0L447.2 576.2L447.3 578.4L447.6 580.6L447.7 582.8L447.4 585.0L447.1 587.2L446.9 589.4L447.2 591.6L447.7 593.8L448.0 596.0L447.9 598.2L447.6 600.4L447.5 602.6L447.7 604.8L447.9 606.1C447.6 612.2 451.4 614.9 458.1 615.0"/><path d="M456.9 552.4C451.0 552.5 447.4 555.0 447.4 560.8L447.7 563.0L447.7 565.2L447.4 567.4L447.3 569.6L447.5 571.8L447.8 574.0L448.0 576.2L447.7 578.4L447.2 580.6L447.0 582.8L447.1 585.0L447.5 587.2L447.7 589.4L447.5 591.6L447.3 593.8L447.3 596.0L447.6 598.2L448.0 600.4L448.2 602.6L448.0 604.8L447.7 606.1C447.6 612.2 451.4 614.9 458.1 615.0"/><path d="M464.7 552.4C458.8 552.5 455.2 555.0 455.2 560.8L455.4 563.0L455.8 565.2L455.7 567.4L455.4 569.6L455.0 571.8L455.0 574.0L455.2 576.2L455.4 578.4L455.3 580.6L455.0 582.8L454.7 585.0L454.9 587.2L455.4 589.4L455.8 591.6L455.8 593.8L455.5 596.0L455.3 598.2L455.4 600.4L455.7 602.6L455.8 604.8L455.7 606.1C455.4 612.2 459.2 614.9 465.9 615.0"/><path d="M464.7 552.4C458.8 552.5 455.2 555.0 455.2 560.8L455.3 563.0L455.1 565.2L455.2 567.4L455.5 569.6L455.7 571.8L455.5 574.0L455.1 576.2L454.7 578.4L454.8 580.6L455.1 582.8L455.4 585.0L455.4 587.2L455.2 589.4L455.1 591.6L455.3 593.8L455.7 596.0L456.0 598.2L455.8 600.4L455.4 602.6L455.1 604.8L455.1 606.1C455.4 612.2 459.2 614.9 465.9 615.0"/><path d="M472.5 552.4C466.6 552.5 463.0 555.0 463.0 560.8L463.6 563.0L463.3 565.2L462.8 567.4L462.7 569.6L462.9 571.8L463.1 574.0L463.1 576.2L462.9 578.4L462.6 580.6L462.7 582.8L463.1 585.0L463.5 587.2L463.6 589.4L463.4 591.6L463.1 593.8L463.1 596.0L463.3 598.2L463.5 600.4L463.4 602.6L463.0 604.8L462.8 606.1C463.2 612.2 467.0 614.9 473.7 615.0"/><path d="M472.5 552.4C466.6 552.5 463.0 555.0 463.0 560.8L462.9 563.0L463.1 565.2L463.4 567.4L463.3 569.6L463.0 571.8L462.6 574.0L462.5 576.2L462.8 578.4L463.2 580.6L463.3 582.8L463.1 585.0L462.9 587.2L463.0 589.4L463.4 591.6L463.7 593.8L463.7 596.0L463.3 598.2L462.9 600.4L462.8 602.6L463.1 604.8L463.2 606.1C463.2 612.2 467.0 614.9 473.7 615.0"/><path d="M480.3 552.4C474.4 552.5 470.8 555.0 470.8 560.8L470.7 563.0L470.4 565.2L470.5 567.4L470.8 569.6L470.9 571.8L470.8 574.0L470.5 576.2L470.4 578.4L470.8 580.6L471.2 582.8L471.5 585.0L471.3 587.2L470.9 589.4L470.8 591.6L470.9 593.8L471.2 596.0L471.2 598.2L470.9 600.4L470.5 602.6L470.4 604.8L470.6 606.1C471.0 612.2 474.8 614.9 481.5 615.0"/><path d="M480.3 552.4C474.4 552.5 470.8 555.0 470.8 560.8L471.0 563.0L471.1 565.2L470.8 567.4L470.4 569.6L470.2 571.8L470.5 574.0L470.9 576.2L471.1 578.4L471.0 580.6L470.8 582.8L470.8 585.0L471.0 587.2L471.4 589.4L471.5 591.6L471.1 593.8L470.7 596.0L470.5 598.2L470.7 600.4L471.0 602.6L471.1 604.8L471.0 606.1C471.0 612.2 474.8 614.9 481.5 615.0"/></g>
<g fill="none" stroke="#0a0a0a" stroke-width="1.1" stroke-linecap="round"><path d="M418.4 618.2C412.5 618.3 408.9 620.8 408.9 626.6L409.3 628.8L409.1 631.0L408.9 633.2L408.9 635.4L408.9 637.6L409.0 639.8L408.9 642.0L408.7 644.2L408.7 646.4L408.8 648.5"/><path d="M426.2 618.2C420.3 618.3 416.7 620.8 416.7 626.6L416.7 628.8L416.6 631.0L416.6 633.2L416.7 635.4L416.7 637.6L416.6 639.8L416.5 642.0L416.6 644.2L416.9 646.4L417.1 648.5"/><path d="M434.0 618.2C428.1 618.3 424.5 620.8 424.5 626.6L424.3 628.8L424.4 631.0L424.5 633.2L424.4 635.4L424.3 637.6L424.4 639.8L424.6 642.0L424.9 644.2L425.0 646.4L425.0 648.5"/><path d="M441.8 618.2C435.9 618.3 432.3 620.8 432.3 626.6L432.3 628.8L432.3 631.0L432.2 633.2L432.2 635.4L432.4 637.6L432.7 639.8L432.8 642.0L432.8 644.2L432.6 646.4L432.4 648.5"/><path d="M449.6 618.2C443.7 618.3 440.1 620.8 440.1 626.6L440.0 628.8L440.0 631.0L440.1 633.2L440.4 635.4L440.6 637.6L440.6 639.8L440.4 642.0L440.2 644.2L440.1 646.4L440.2 648.5"/><path d="M457.4 618.2C451.5 618.3 447.9 620.8 447.9 626.6L447.9 628.8L448.1 631.0L448.3 633.2L448.4 635.4L448.2 637.6L448.0 639.8L447.8 642.0L447.9 644.2L448.0 646.4L448.0 648.5"/><path d="M465.2 618.2C459.3 618.3 455.7 620.8 455.7 626.6L456.1 628.8L456.2 631.0L456.0 633.2L455.7 635.4L455.6 637.6L455.6 639.8L455.7 642.0L455.8 644.2L455.7 646.4L455.6 648.5"/><path d="M473.0 618.2C467.1 618.3 463.5 620.8 463.5 626.6L463.8 628.8L463.5 631.0L463.3 633.2L463.3 635.4L463.4 637.6L463.5 639.8L463.5 642.0L463.4 644.2L463.4 646.4L463.6 648.5"/><path d="M480.8 618.2C474.9 618.3 471.3 620.8 471.3 626.6L471.1 628.8L471.0 631.0L471.1 633.2L471.3 635.4L471.4 637.6L471.3 639.8L471.3 642.0L471.4 644.2L471.6 646.4L471.8 648.5"/></g>
<g fill="#fff" stroke="#3c3c3c" stroke-width="0.95"><path d="M406.9 648.2h4.2v8.3c1 1.2 1 6.6 -0.4 8.4h-3.4c-1.4 -1.8 -1.4 -7.2 -0.4 -8.4z M406.9 656.4h4.2"/><path d="M414.7 648.2h4.2v8.3c1 1.2 1 6.6 -0.4 8.4h-3.4c-1.4 -1.8 -1.4 -7.2 -0.4 -8.4z M414.7 656.4h4.2"/><path d="M422.5 648.2h4.2v8.3c1 1.2 1 6.6 -0.4 8.4h-3.4c-1.4 -1.8 -1.4 -7.2 -0.4 -8.4z M422.5 656.4h4.2"/><path d="M430.3 648.2h4.2v8.3c1 1.2 1 6.6 -0.4 8.4h-3.4c-1.4 -1.8 -1.4 -7.2 -0.4 -8.4z M430.3 656.4h4.2"/><path d="M438.1 648.2h4.2v8.3c1 1.2 1 6.6 -0.4 8.4h-3.4c-1.4 -1.8 -1.4 -7.2 -0.4 -8.4z M438.1 656.4h4.2"/><path d="M445.9 648.2h4.2v8.3c1 1.2 1 6.6 -0.4 8.4h-3.4c-1.4 -1.8 -1.4 -7.2 -0.4 -8.4z M445.9 656.4h4.2"/><path d="M453.7 648.2h4.2v8.3c1 1.2 1 6.6 -0.4 8.4h-3.4c-1.4 -1.8 -1.4 -7.2 -0.4 -8.4z M453.7 656.4h4.2"/><path d="M461.5 648.2h4.2v8.3c1 1.2 1 6.6 -0.4 8.4h-3.4c-1.4 -1.8 -1.4 -7.2 -0.4 -8.4z M461.5 656.4h4.2"/><path d="M469.3 648.2h4.2v8.3c1 1.2 1 6.6 -0.4 8.4h-3.4c-1.4 -1.8 -1.4 -7.2 -0.4 -8.4z M469.3 656.4h4.2"/></g>
<path d="M414.5 191.2L479.5 191.6M414.5 194.4L479.5 194.0" stroke="#050505" stroke-width="1.3" stroke-linecap="round"/>
<path d="M416.0 190.6v4.4M423.8 190.6v4.4M431.6 190.6v4.4M439.4 190.6v4.4M447.2 190.6v4.4M455.0 190.6v4.4M462.8 190.6v4.4M470.6 190.6v4.4M478.4 190.6v4.4" stroke="#050505" stroke-width="2.6"/>
<g stroke="#111" stroke-width="0.95" fill="#fff"><path d="M472.3 190.5L479.6 191.3M472.3 195.1L479.6 194.3" stroke="#050505" stroke-width="1.5" fill="none"/><rect x="479.3" y="190.4" width="12.4" height="4.8"/><rect x="491.7" y="190.1" width="2.6" height="5.4" fill="#777"/><path d="M494.3 190.4h5.2a2.4 2.4 0 0 1 0 4.8h-5.2z"/><path d="M499.7 190.8v4" stroke="#333" stroke-width="0.7"/><path d="M480.9 192.0h9M480.9 193.7h9" stroke="#aaa" stroke-width="0.6"/></g>
<path d="M414.9 258.8L479.9 259.2M414.9 262.0L479.9 261.6" stroke="#050505" stroke-width="1.3" stroke-linecap="round"/>
<path d="M416.4 258.2v4.4M424.2 258.2v4.4M432.0 258.2v4.4M439.8 258.2v4.4M447.6 258.2v4.4M455.4 258.2v4.4M463.2 258.2v4.4M471.0 258.2v4.4M478.8 258.2v4.4" stroke="#050505" stroke-width="2.6"/>
<g stroke="#111" stroke-width="0.95" fill="#fff"><path d="M472.7 258.1L480.0 258.9M472.7 262.7L480.0 261.9" stroke="#050505" stroke-width="1.5" fill="none"/><rect x="479.7" y="258.0" width="12.4" height="4.8"/><rect x="492.1" y="257.7" width="2.6" height="5.4" fill="#777"/><path d="M494.7 258.0h5.2a2.4 2.4 0 0 1 0 4.8h-5.2z"/><path d="M500.1 258.4v4" stroke="#333" stroke-width="0.7"/><path d="M481.3 259.6h9M481.3 261.3h9" stroke="#aaa" stroke-width="0.6"/></g>
<path d="M415.3 336.3L480.3 336.7M415.3 339.5L480.3 339.1" stroke="#050505" stroke-width="1.3" stroke-linecap="round"/>
<path d="M416.8 335.7v4.4M424.6 335.7v4.4M432.4 335.7v4.4M440.2 335.7v4.4M448.0 335.7v4.4M455.8 335.7v4.4M463.6 335.7v4.4M471.4 335.7v4.4M479.2 335.7v4.4" stroke="#050505" stroke-width="2.6"/>
<g stroke="#111" stroke-width="0.95" fill="#fff"><path d="M473.1 335.6L480.4 336.4M473.1 340.2L480.4 339.4" stroke="#050505" stroke-width="1.5" fill="none"/><rect x="480.1" y="335.5" width="12.4" height="4.8"/><rect x="492.5" y="335.2" width="2.6" height="5.4" fill="#777"/><path d="M495.1 335.5h5.2a2.4 2.4 0 0 1 0 4.8h-5.2z"/><path d="M500.5 335.9v4" stroke="#333" stroke-width="0.7"/><path d="M481.7 337.1h9M481.7 338.8h9" stroke="#aaa" stroke-width="0.6"/></g>
<path d="M415.7 402.7L480.7 403.1M415.7 405.9L480.7 405.5" stroke="#050505" stroke-width="1.3" stroke-linecap="round"/>
<path d="M417.2 402.1v4.4M425.0 402.1v4.4M432.8 402.1v4.4M440.6 402.1v4.4M448.4 402.1v4.4M456.2 402.1v4.4M464.0 402.1v4.4M471.8 402.1v4.4M479.6 402.1v4.4" stroke="#050505" stroke-width="2.6"/>
<g stroke="#111" stroke-width="0.95" fill="#fff"><path d="M473.5 402.0L480.8 402.8M473.5 406.6L480.8 405.8" stroke="#050505" stroke-width="1.5" fill="none"/><rect x="480.5" y="401.9" width="12.4" height="4.8"/><rect x="492.9" y="401.6" width="2.6" height="5.4" fill="#777"/><path d="M495.5 401.9h5.2a2.4 2.4 0 0 1 0 4.8h-5.2z"/><path d="M500.9 402.3v4" stroke="#333" stroke-width="0.7"/><path d="M482.1 403.5h9M482.1 405.2h9" stroke="#aaa" stroke-width="0.6"/></g>
<path d="M416.0 471.4L481.0 471.8M416.0 474.6L481.0 474.2" stroke="#050505" stroke-width="1.3" stroke-linecap="round"/>
<path d="M417.5 470.8v4.4M425.3 470.8v4.4M433.1 470.8v4.4M440.9 470.8v4.4M448.7 470.8v4.4M456.5 470.8v4.4M464.3 470.8v4.4M472.1 470.8v4.4M479.9 470.8v4.4" stroke="#050505" stroke-width="2.6"/>
<g stroke="#111" stroke-width="0.95" fill="#fff"><path d="M473.8 470.7L481.1 471.5M473.8 475.3L481.1 474.5" stroke="#050505" stroke-width="1.5" fill="none"/><rect x="480.8" y="470.6" width="12.4" height="4.8"/><rect x="493.2" y="470.3" width="2.6" height="5.4" fill="#777"/><path d="M495.8 470.6h5.2a2.4 2.4 0 0 1 0 4.8h-5.2z"/><path d="M501.2 471.0v4" stroke="#333" stroke-width="0.7"/><path d="M482.4 472.2h9M482.4 473.9h9" stroke="#aaa" stroke-width="0.6"/></g>
<path d="M416.5 549.2L481.5 549.6M416.5 552.4L481.5 552.0" stroke="#050505" stroke-width="1.3" stroke-linecap="round"/>
<path d="M418.0 548.6v4.4M425.8 548.6v4.4M433.6 548.6v4.4M441.4 548.6v4.4M449.2 548.6v4.4M457.0 548.6v4.4M464.8 548.6v4.4M472.6 548.6v4.4M480.4 548.6v4.4" stroke="#050505" stroke-width="2.6"/>
<g stroke="#111" stroke-width="0.95" fill="#fff"><path d="M474.3 548.5L481.6 549.3M474.3 553.1L481.6 552.3" stroke="#050505" stroke-width="1.5" fill="none"/><rect x="481.3" y="548.4" width="12.4" height="4.8"/><rect x="493.7" y="548.1" width="2.6" height="5.4" fill="#777"/><path d="M496.3 548.4h5.2a2.4 2.4 0 0 1 0 4.8h-5.2z"/><path d="M501.7 548.8v4" stroke="#333" stroke-width="0.7"/><path d="M482.9 550.0h9M482.9 551.7h9" stroke="#aaa" stroke-width="0.6"/></g>
<path d="M416.8 615.0L481.8 615.4M416.8 618.2L481.8 617.8" stroke="#050505" stroke-width="1.3" stroke-linecap="round"/>
<path d="M418.3 614.4v4.4M426.1 614.4v4.4M433.9 614.4v4.4M441.7 614.4v4.4M449.5 614.4v4.4M457.3 614.4v4.4M465.1 614.4v4.4M472.9 614.4v4.4M480.7 614.4v4.4" stroke="#050505" stroke-width="2.6"/>
<g stroke="#111" stroke-width="0.95" fill="#fff"><path d="M474.6 614.3L481.9 615.1M474.6 618.9L481.9 618.1" stroke="#050505" stroke-width="1.5" fill="none"/><rect x="481.6" y="614.2" width="12.4" height="4.8"/><rect x="494.0" y="613.9" width="2.6" height="5.4" fill="#777"/><path d="M496.6 614.2h5.2a2.4 2.4 0 0 1 0 4.8h-5.2z"/><path d="M502.0 614.6v4" stroke="#333" stroke-width="0.7"/><path d="M483.2 615.8h9M483.2 617.5h9" stroke="#aaa" stroke-width="0.6"/></g>
<path d="M400.6 120.0C395.5 120.6 390.2 123.0 390.4 126.7L390.6 127.4L390.9 128.1L391.5 128.8L392.3 129.5L393.2 130.2L394.3 130.9L395.4 131.6L396.4 132.3L397.4 133.0L398.3 133.7L399.1 134.4L399.6 135.1L399.9 135.8L399.9 136.5L399.7 137.2L399.3 137.9L398.6 138.6L397.8 139.3L396.8 140.0L395.7 140.7L394.6 141.4L393.6 142.1L392.6 142.8L391.7 143.5L391.1 144.2L390.6 144.9L390.4 145.6L390.5 146.3L390.7 147.0L391.2 147.7L392.0 148.4L392.8 149.1L393.9 149.8L394.9 150.5L396.0 151.2L397.0 151.9L398.0 152.6L398.8 153.3L399.4 154.0L399.7 154.7L399.9 155.4L399.8 156.1L399.4 156.8L398.8 157.5L398.0 158.2L397.1 158.9L396.1 159.6L395.0 160.3L393.9 161.0L392.9 161.7L392.0 162.4L391.2 163.1L390.7 163.8L390.4 164.5L390.4 165.2L390.6 165.9L391.0 166.6L391.6 167.3L392.5 168.0L393.4 168.7L394.5 169.4L395.6 170.1L396.6 170.8L397.6 171.5L398.5 172.2L399.1 172.9L399.6 173.6L399.8 174.3L399.8 175.0L399.5 175.7L399.0 176.4L398.3 177.1L397.4 177.8L396.4 178.5L395.3 179.2L394.2 179.9L393.2 180.6L392.2 181.3L391.4 182.0L390.8 182.7L390.4 183.4L390.3 184.1L390.4 184.8L390.8 185.5L391.3 186.2L392.1 186.9L393.0 187.6L394.1 188.3L395.1 189.0L396.2 189.7L397.2 190.4L398.1 191.1L398.9 191.8L399.4 192.5L399.7 193.2L399.8 193.9L399.6 194.6L399.2 195.3L398.5 196.0L397.7 196.7L396.7 197.4L395.7 198.1L394.6 198.8L393.5 199.5L392.5 200.2L391.7 200.9L391.0 201.6L390.5 202.3L390.3 203.0L390.3 203.7L390.6 204.4L391.1 205.1L391.8 205.8L392.7 206.5L393.8 207.2L394.9 207.9L396.0 208.6L397.0 209.3L398.0 210.0L398.7 210.7L399.3 211.4L399.6 212.1L399.7 212.8L399.5 213.5L399.1 214.2L398.4 214.9L397.6 215.6L396.6 216.3L395.5 217.0L394.4 217.7L393.3 218.4L392.3 219.1L391.4 219.8L390.8 220.5L390.4 221.2L390.2 221.9L390.3 222.6L390.6 223.3L391.2 224.0L392.0 224.7L393.0 225.4L394.0 226.1L395.1 226.8L396.2 227.5L397.3 228.2L398.2 228.9L398.9 229.6L399.4 230.3L399.6 231.0L399.6 231.7L399.4 232.4L398.9 233.1L398.2 233.8L397.2 234.5L396.2 235.2L395.1 235.9L394.0 236.6L392.9 237.3L392.0 238.0L391.2 238.7L390.6 239.4L390.3 240.1L390.2 240.8L390.3 241.5L390.7 242.2L391.4 242.9L392.2 243.6L393.2 244.3L394.3 245.0L395.4 245.7L396.5 246.4L397.5 247.1L398.4 247.8L399.0 248.5L399.5 249.2L399.6 249.9L399.5 250.6L399.2 251.3L398.6 252.0L397.8 252.7L396.9 253.4L395.8 254.1L394.7 254.8L393.6 255.5L392.5 256.2L391.6 256.9L390.9 257.6L390.4 258.3L390.1 259.0L390.1 259.7L390.4 260.4L390.9 261.1L391.6 261.8L392.6 262.5L393.6 263.2L394.7 263.9L395.8 264.6L396.9 265.3L397.8 266.0L398.6 266.7L399.2 267.4L399.5 268.1L399.6 268.8L399.4 269.5L398.9 270.2L398.3 270.9L397.4 271.6L396.4 272.3L395.3 273.0L394.2 273.7L393.1 274.4L392.1 275.1L391.3 275.8L390.6 276.5L390.2 277.2L390.1 277.9L390.2 278.6L390.5 279.3L391.1 280.0L391.9 280.7L392.9 281.4L394.0 282.1L395.1 282.8L396.2 283.5L397.2 284.2L398.1 284.9L398.8 285.6L399.3 286.3L399.5 287.0L399.5 287.7L399.2 288.4L398.7 289.1L397.9 289.8L397.0 290.5L395.9 291.2L394.8 291.9L393.7 292.6L392.7 293.3L391.7 294.0L391.0 294.7L390.4 295.4L390.1 296.1L390.0 296.8L390.2 297.5L390.7 298.2L391.4 298.9L392.2 299.6L393.2 300.3L394.3 301.0L395.4 301.7L396.5 302.4L397.5 303.1L398.3 303.8L398.9 304.5L399.3 305.2L399.5 305.9L399.4 306.6L399.0 307.3L398.4 308.0L397.6 308.7L396.6 309.4L395.6 310.1L394.4 310.8L393.3 311.5L392.3 312.2L391.4 312.9L390.7 313.6L390.2 314.3L390.0 315.0L390.0 315.7L390.3 316.4L390.8 317.1L391.5 317.8L392.4 318.5L393.5 319.2L394.6 319.9L395.7 320.6L396.7 321.3L397.7 322.0L398.5 322.7L399.0 323.4L399.4 324.1L399.4 324.8L399.2 325.5L398.8 326.2L398.1 326.9L397.3 327.6L396.3 328.3L395.2 329.0L394.1 329.7L393.0 330.4L392.0 331.1L391.2 331.8L390.5 332.5L390.1 333.2L389.9 333.9L390.0 334.6L390.3 335.3L390.9 336.0L391.6 336.7L392.5 337.4L393.6 338.1L394.6 338.8L395.7 339.5L396.7 340.2L397.6 340.9L398.4 341.6L399.0 342.3L399.3 343.0L399.4 343.7L399.2 344.4L398.8 345.1L398.2 345.8L397.4 346.5L396.5 347.2L395.4 347.9L394.4 348.6L393.3 349.3L392.3 350.0L391.4 350.7L390.7 351.4L390.2 352.1L389.9 352.8L389.9 353.5L390.1 354.2L390.5 354.9L391.2 355.6L392.0 356.3L393.0 357.0L394.1 357.7L395.2 358.4L396.2 359.1L397.2 359.8L398.0 360.5L398.7 361.2L399.1 361.9L399.3 362.6L399.3 363.3L399.0 364.0L398.5 364.7L397.8 365.4L396.9 366.1L395.9 366.8L394.8 367.5L393.7 368.2L392.7 368.9L391.8 369.6L391.0 370.3L390.3 371.0L390.0 371.7L389.8 372.4L389.9 373.1L390.3 373.8L390.8 374.5L391.6 375.2L392.5 375.9L393.5 376.6L394.6 377.3L395.7 378.0L396.7 378.7L397.6 379.4L398.3 380.1L398.9 380.8L399.2 381.5L399.3 382.2L399.1 382.9L398.7 383.6L398.1 384.3L397.3 385.0L396.3 385.7L395.3 386.4L394.2 387.1L393.1 387.8L392.1 388.5L391.3 389.2L390.6 389.9L390.1 390.6L389.8 391.3L389.8 392.0L390.0 392.7L390.5 393.4L391.2 394.1L392.0 394.8L393.0 395.5L394.1 396.2L395.2 396.9L396.3 397.6L397.2 398.3L398.1 399.0L398.7 399.7L399.1 400.4L399.2 401.1L399.1 401.8L398.8 402.5L398.2 403.2L397.4 403.9L396.5 404.6L395.5 405.3L394.4 406.0L393.3 406.7L392.2 407.4L391.3 408.1L390.6 408.8L390.1 409.5L389.8 410.2L389.7 410.9L389.9 411.6L390.4 412.3L391.1 413.0L391.9 413.7L392.9 414.4L394.0 415.1L395.1 415.8L396.1 416.5L397.1 417.2L397.9 417.9L398.6 418.6L399.0 419.3L399.2 420.0L399.1 420.7L398.8 421.4L398.2 422.1L397.5 422.8L396.5 423.5L395.5 424.2L394.4 424.9L393.3 425.6L392.3 426.3L391.4 427.0L390.6 427.7L390.1 428.4L389.7 429.1L389.7 429.8L389.9 430.5L390.3 431.2L390.9 431.9L391.8 432.6L392.7 433.3L393.8 434.0L394.9 434.7L396.0 435.4L397.0 436.1L397.8 436.8L398.5 437.5L398.9 438.2L399.1 438.9L399.1 439.6L398.8 440.3L398.2 441.0L397.5 441.7L396.6 442.4L395.6 443.1L394.5 443.8L393.4 444.5L392.3 445.2L391.4 445.9L390.6 446.6L390.1 447.3L389.7 448.0L389.6 448.7L389.8 449.4L390.2 450.1L390.9 450.8L391.8 451.5L392.8 452.2L393.9 452.9L395.0 453.6L396.1 454.3L397.1 455.0L397.9 455.7L398.6 456.4L399.0 457.1L399.1 457.8L399.0 458.5L398.6 459.2L397.9 459.9L397.1 460.6L396.1 461.3L395.0 462.0L393.8 462.7L392.7 463.4L391.7 464.1L390.8 464.8L390.2 465.5L389.7 466.2L389.6 466.9L389.7 467.6L390.0 468.3L390.6 469.0L391.4 469.7L392.3 470.4L393.4 471.1L394.5 471.8L395.6 472.5L396.7 473.2L397.5 473.9L398.3 474.6L398.8 475.3L399.0 476.0L399.0 476.7L398.7 477.4L398.2 478.1L397.5 478.8L396.6 479.5L395.5 480.2L394.4 480.9L393.3 481.6L392.2 482.3L391.3 483.0L390.5 483.7L389.9 484.4L389.6 485.1L389.5 485.8L389.7 486.5L390.1 487.2L390.8 487.9L391.7 488.6L392.7 489.3L393.8 490.0L394.9 490.7L396.0 491.4L396.9 492.1L397.8 492.8L398.4 493.5L398.8 494.2L399.0 494.9L398.9 495.6L398.5 496.3L397.9 497.0L397.1 497.7L396.2 498.4L395.1 499.1L394.0 499.8L392.9 500.5L391.8 501.2L390.9 501.9L390.2 502.6L389.7 503.3L389.5 504.0L389.5 504.7L389.8 505.4L390.3 506.1L391.0 506.8L392.0 507.5L393.0 508.2L394.1 508.9L395.2 509.6L396.3 510.3L397.2 511.0L398.0 511.7L398.5 512.4L398.9 513.1L398.9 513.8L398.7 514.5L398.3 515.2L397.6 515.9L396.7 516.6L395.7 517.3L394.6 518.0L393.5 518.7L392.4 519.4L391.5 520.1L390.6 520.8L390.0 521.5L389.6 522.2L389.4 522.9L389.5 523.6L389.9 524.3L390.5 525.0L391.3 525.7L392.3 526.4L393.3 527.1L394.5 527.8L395.6 528.5L396.6 529.2L397.5 529.9L398.2 530.6L398.6 531.3L398.9 532.0L398.8 532.7L398.6 533.4L398.0 534.1L397.3 534.8L396.3 535.5L395.3 536.2L394.2 536.9L393.1 537.6L392.0 538.3L391.1 539.0L390.3 539.7L389.8 540.4L389.4 541.1L389.4 541.8L389.6 542.5L390.1 543.2L390.8 543.9L391.7 544.6L392.8 545.3L393.9 546.0L395.1 546.7L396.2 547.4L397.2 548.1L397.9 548.8L398.5 549.5L398.8 550.2L398.8 550.9L398.6 551.6L398.0 552.3L397.3 553.0L396.3 553.7L395.2 554.4L394.1 555.1L392.9 555.8L391.9 556.5L390.9 557.2L390.1 557.9L389.6 558.6L389.4 559.3L389.4 560.0L389.7 560.7L390.3 561.4L391.1 562.1L392.1 562.8L393.2 563.5L394.4 564.2L395.6 564.9L396.6 565.6L397.5 566.3L398.2 567.0L398.7 567.7C400.2 568.7 398.6 570.5 398.3 573.5" fill="none" stroke="#050505" stroke-width="1.6" stroke-linejoin="round" stroke-linecap="round"/><!-- plug at bottom -->
<g stroke-linejoin="round">
  <path d="M394.1 572.8h5.3l0.7 15.6h-6.8z" fill="#ececec" stroke="#8a8a8a" stroke-width="0.8"/>
  <path d="M395.8 574v14M397.9 574v14" stroke="#b4b4b4" stroke-width="0.7" fill="none"/>
  <path d="M393.2 588.2h7.2v3.6h-7.2z" fill="#fff" stroke="#333" stroke-width="0.8"/>
  <rect x="390.5" y="591.6" width="10.8" height="10" rx="1.2" fill="#fff" stroke="#1a1a1a" stroke-width="1.1"/>
  <path d="M398.6 592v9.4" stroke="#777" stroke-width="0.8"/>
  <path d="M381.2 608h21.5v34.6h-21.5z" fill="#fff" stroke="#1a1a1a" stroke-width="1.1"/>
  <path d="M400.3 608.5v33.8" stroke="#333" stroke-width="0.9"/>
  <path d="M380 603.3h23q1.6 0 1.6 1.6v1.6q0 1.6 -1.6 1.6h-23q-1.6 0 -1.6 -1.6v-1.6q0 -1.6 1.6 -1.6z" fill="#fff" stroke="#111" stroke-width="1.3"/>
  <path d="M387.9 642.8v8.4h1.9v-8.4M394.9 642.8v8.4h1.9v-8.4" fill="#fff" stroke="#1a1a1a" stroke-width="0.9"/>
  <path d="M398.8 610.5v4.5h2" stroke="#333" stroke-width="0.7" fill="none"/>
</g>
</g>
</svg>
</body></html>
